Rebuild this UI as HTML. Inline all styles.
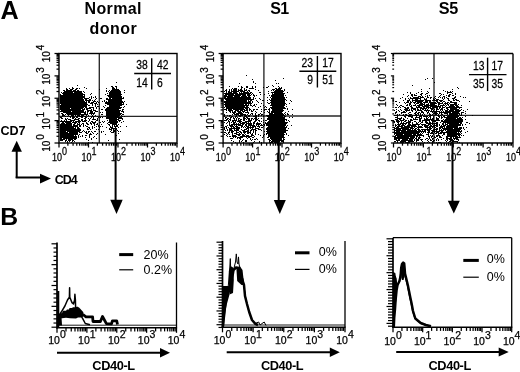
<!DOCTYPE html>
<html><head><meta charset="utf-8"><style>
html,body{margin:0;padding:0;background:#fff;}
svg{display:block;font-family:"Liberation Sans", sans-serif;filter:blur(0.4px);}
.lb{stroke:#000;stroke-width:0.25px;}
</style></head><body>
<svg width="520" height="372" viewBox="0 0 520 372">
<rect width="520" height="372" fill="#fff"/>
<text x="0.60" y="18.60" font-size="25.2" font-weight="bold" text-anchor="start">A</text>
<text x="0.30" y="224.70" font-size="24.8" font-weight="bold" text-anchor="start">B</text>
<text x="113.20" y="13.80" font-size="16" font-weight="bold" text-anchor="middle" letter-spacing="0.35">Normal</text>
<text x="113.40" y="33.80" font-size="16" font-weight="bold" text-anchor="middle" letter-spacing="0.45">donor</text>
<text x="279.40" y="14.00" font-size="16" font-weight="bold" text-anchor="middle" letter-spacing="-0.6">S1</text>
<text x="448.30" y="14.00" font-size="16.2" font-weight="bold" text-anchor="middle" letter-spacing="-0.3">S5</text>
<path d="M116 82h1v1h-1zM77 85h1v1h-1zM111 86h2v1h-2zM115 86h2v1h-2zM72 87h1v1h-1zM84 87h1v1h-1zM112 87h2v1h-2zM116 87h1v1h-1zM66 88h1v1h-1zM69 88h1v1h-1zM72 88h2v1h-2zM76 88h2v1h-2zM79 88h1v1h-1zM86 88h1v1h-1zM106 88h1v1h-1zM112 88h3v1h-3zM116 88h1v1h-1zM66 89h2v1h-2zM70 89h3v1h-3zM75 89h2v1h-2zM99 89h1v1h-1zM112 89h7v1h-7zM63 90h2v1h-2zM66 90h6v1h-6zM73 90h3v1h-3zM77 90h2v1h-2zM106 90h1v1h-1zM109 90h1v1h-1zM111 90h9v1h-9zM124 90h1v1h-1zM64 91h18v1h-18zM83 91h1v1h-1zM106 91h1v1h-1zM108 91h1v1h-1zM110 91h11v1h-11zM61 92h1v1h-1zM63 92h10v1h-10zM74 92h8v1h-8zM84 92h1v1h-1zM109 92h12v1h-12zM124 92h1v1h-1zM62 93h21v1h-21zM91 93h1v1h-1zM107 93h1v1h-1zM109 93h12v1h-12zM60 94h1v1h-1zM63 94h22v1h-22zM90 94h1v1h-1zM105 94h1v1h-1zM109 94h13v1h-13zM60 95h23v1h-23zM84 95h1v1h-1zM107 95h14v1h-14zM60 96h25v1h-25zM91 96h1v1h-1zM95 96h1v1h-1zM108 96h14v1h-14zM60 97h25v1h-25zM89 97h1v1h-1zM91 97h1v1h-1zM93 97h1v1h-1zM95 97h1v1h-1zM109 97h13v1h-13zM123 97h1v1h-1zM60 98h23v1h-23zM84 98h5v1h-5zM91 98h1v1h-1zM96 98h1v1h-1zM100 98h2v1h-2zM106 98h2v1h-2zM109 98h2v1h-2zM112 98h12v1h-12zM60 99h24v1h-24zM85 99h2v1h-2zM89 99h2v1h-2zM95 99h1v1h-1zM106 99h16v1h-16zM60 100h24v1h-24zM85 100h6v1h-6zM92 100h1v1h-1zM94 100h1v1h-1zM104 100h1v1h-1zM108 100h14v1h-14zM60 101h25v1h-25zM86 101h1v1h-1zM88 101h2v1h-2zM93 101h3v1h-3zM97 101h1v1h-1zM102 101h1v1h-1zM104 101h1v1h-1zM106 101h1v1h-1zM108 101h15v1h-15zM124 101h1v1h-1zM60 102h27v1h-27zM88 102h2v1h-2zM91 102h3v1h-3zM96 102h1v1h-1zM98 102h1v1h-1zM105 102h19v1h-19zM60 103h27v1h-27zM90 103h3v1h-3zM94 103h3v1h-3zM105 103h17v1h-17zM123 103h1v1h-1zM61 104h27v1h-27zM92 104h1v1h-1zM95 104h1v1h-1zM97 104h1v1h-1zM99 104h1v1h-1zM107 104h17v1h-17zM126 104h1v1h-1zM60 105h27v1h-27zM88 105h2v1h-2zM92 105h1v1h-1zM95 105h1v1h-1zM105 105h1v1h-1zM109 105h13v1h-13zM60 106h27v1h-27zM95 106h1v1h-1zM97 106h2v1h-2zM103 106h1v1h-1zM109 106h11v1h-11zM124 106h1v1h-1zM60 107h24v1h-24zM85 107h2v1h-2zM89 107h5v1h-5zM96 107h1v1h-1zM104 107h1v1h-1zM107 107h15v1h-15zM123 107h1v1h-1zM60 108h10v1h-10zM71 108h12v1h-12zM84 108h1v1h-1zM86 108h5v1h-5zM93 108h1v1h-1zM96 108h1v1h-1zM99 108h1v1h-1zM106 108h15v1h-15zM60 109h21v1h-21zM82 109h3v1h-3zM86 109h2v1h-2zM91 109h1v1h-1zM93 109h1v1h-1zM101 109h2v1h-2zM105 109h14v1h-14zM122 109h2v1h-2zM61 110h23v1h-23zM87 110h5v1h-5zM93 110h3v1h-3zM105 110h16v1h-16zM122 110h1v1h-1zM60 111h11v1h-11zM72 111h12v1h-12zM85 111h1v1h-1zM87 111h2v1h-2zM90 111h3v1h-3zM95 111h3v1h-3zM106 111h14v1h-14zM121 111h3v1h-3zM63 112h23v1h-23zM87 112h1v1h-1zM90 112h3v1h-3zM94 112h1v1h-1zM100 112h1v1h-1zM102 112h1v1h-1zM106 112h14v1h-14zM123 112h1v1h-1zM61 113h2v1h-2zM66 113h15v1h-15zM84 113h2v1h-2zM87 113h1v1h-1zM89 113h6v1h-6zM106 113h16v1h-16zM62 114h2v1h-2zM65 114h1v1h-1zM67 114h21v1h-21zM91 114h1v1h-1zM93 114h1v1h-1zM101 114h2v1h-2zM106 114h15v1h-15zM122 114h2v1h-2zM62 115h3v1h-3zM68 115h1v1h-1zM71 115h3v1h-3zM75 115h1v1h-1zM77 115h3v1h-3zM81 115h3v1h-3zM86 115h1v1h-1zM88 115h1v1h-1zM92 115h1v1h-1zM95 115h1v1h-1zM106 115h14v1h-14zM121 115h1v1h-1zM62 116h1v1h-1zM65 116h1v1h-1zM67 116h1v1h-1zM69 116h2v1h-2zM72 116h2v1h-2zM76 116h2v1h-2zM79 116h4v1h-4zM84 116h2v1h-2zM91 116h4v1h-4zM97 116h1v1h-1zM105 116h1v1h-1zM107 116h12v1h-12zM122 116h1v1h-1zM124 116h1v1h-1zM60 117h2v1h-2zM70 117h1v1h-1zM72 117h3v1h-3zM76 117h2v1h-2zM81 117h2v1h-2zM85 117h2v1h-2zM91 117h1v1h-1zM93 117h1v1h-1zM98 117h1v1h-1zM100 117h1v1h-1zM102 117h1v1h-1zM106 117h16v1h-16zM61 118h2v1h-2zM65 118h1v1h-1zM67 118h1v1h-1zM72 118h2v1h-2zM75 118h1v1h-1zM78 118h2v1h-2zM84 118h2v1h-2zM88 118h1v1h-1zM90 118h1v1h-1zM93 118h1v1h-1zM97 118h1v1h-1zM106 118h11v1h-11zM118 118h5v1h-5zM65 119h2v1h-2zM68 119h3v1h-3zM74 119h5v1h-5zM81 119h2v1h-2zM85 119h1v1h-1zM89 119h1v1h-1zM92 119h4v1h-4zM97 119h1v1h-1zM109 119h10v1h-10zM122 119h1v1h-1zM61 120h1v1h-1zM64 120h1v1h-1zM66 120h1v1h-1zM70 120h5v1h-5zM78 120h2v1h-2zM81 120h2v1h-2zM84 120h3v1h-3zM89 120h1v1h-1zM96 120h2v1h-2zM99 120h1v1h-1zM107 120h1v1h-1zM109 120h8v1h-8zM118 120h3v1h-3zM60 121h12v1h-12zM73 121h1v1h-1zM75 121h6v1h-6zM82 121h4v1h-4zM88 121h1v1h-1zM91 121h2v1h-2zM95 121h1v1h-1zM102 121h1v1h-1zM104 121h1v1h-1zM109 121h9v1h-9zM119 121h1v1h-1zM123 121h1v1h-1zM62 122h2v1h-2zM65 122h6v1h-6zM72 122h5v1h-5zM78 122h2v1h-2zM86 122h1v1h-1zM90 122h1v1h-1zM92 122h4v1h-4zM99 122h2v1h-2zM103 122h1v1h-1zM108 122h10v1h-10zM121 122h1v1h-1zM61 123h4v1h-4zM66 123h6v1h-6zM74 123h2v1h-2zM77 123h1v1h-1zM79 123h1v1h-1zM82 123h2v1h-2zM86 123h2v1h-2zM90 123h2v1h-2zM93 123h2v1h-2zM97 123h1v1h-1zM107 123h1v1h-1zM110 123h7v1h-7zM60 124h12v1h-12zM73 124h2v1h-2zM77 124h3v1h-3zM81 124h1v1h-1zM83 124h1v1h-1zM87 124h2v1h-2zM91 124h1v1h-1zM94 124h1v1h-1zM96 124h2v1h-2zM101 124h1v1h-1zM108 124h2v1h-2zM112 124h5v1h-5zM118 124h1v1h-1zM60 125h12v1h-12zM73 125h5v1h-5zM79 125h2v1h-2zM83 125h1v1h-1zM85 125h1v1h-1zM94 125h1v1h-1zM98 125h1v1h-1zM109 125h1v1h-1zM112 125h1v1h-1zM114 125h1v1h-1zM116 125h2v1h-2zM60 126h18v1h-18zM79 126h2v1h-2zM83 126h1v1h-1zM86 126h2v1h-2zM92 126h1v1h-1zM96 126h1v1h-1zM98 126h1v1h-1zM100 126h1v1h-1zM102 126h1v1h-1zM110 126h1v1h-1zM112 126h1v1h-1zM114 126h4v1h-4zM120 126h1v1h-1zM126 126h1v1h-1zM60 127h14v1h-14zM75 127h1v1h-1zM77 127h2v1h-2zM88 127h2v1h-2zM92 127h1v1h-1zM94 127h1v1h-1zM99 127h1v1h-1zM106 127h1v1h-1zM110 127h3v1h-3zM115 127h1v1h-1zM118 127h1v1h-1zM60 128h16v1h-16zM77 128h3v1h-3zM87 128h1v1h-1zM89 128h1v1h-1zM92 128h1v1h-1zM109 128h1v1h-1zM111 128h6v1h-6zM60 129h21v1h-21zM87 129h2v1h-2zM90 129h1v1h-1zM96 129h1v1h-1zM98 129h1v1h-1zM109 129h3v1h-3zM113 129h1v1h-1zM115 129h2v1h-2zM60 130h21v1h-21zM83 130h1v1h-1zM111 130h1v1h-1zM113 130h2v1h-2zM117 130h1v1h-1zM60 131h6v1h-6zM67 131h13v1h-13zM82 131h1v1h-1zM84 131h1v1h-1zM86 131h1v1h-1zM88 131h2v1h-2zM91 131h1v1h-1zM94 131h2v1h-2zM99 131h1v1h-1zM101 131h1v1h-1zM103 131h1v1h-1zM110 131h1v1h-1zM113 131h3v1h-3zM118 131h1v1h-1zM120 131h1v1h-1zM60 132h8v1h-8zM69 132h9v1h-9zM79 132h3v1h-3zM85 132h2v1h-2zM88 132h1v1h-1zM92 132h1v1h-1zM101 132h1v1h-1zM111 132h3v1h-3zM60 133h18v1h-18zM86 133h2v1h-2zM90 133h1v1h-1zM93 133h1v1h-1zM97 133h1v1h-1zM115 133h1v1h-1zM118 133h1v1h-1zM60 134h18v1h-18zM79 134h1v1h-1zM89 134h3v1h-3zM96 134h1v1h-1zM105 134h1v1h-1zM60 135h14v1h-14zM75 135h1v1h-1zM78 135h1v1h-1zM82 135h1v1h-1zM85 135h2v1h-2zM89 135h1v1h-1zM116 135h1v1h-1zM60 136h17v1h-17zM78 136h1v1h-1zM80 136h1v1h-1zM82 136h1v1h-1zM89 136h1v1h-1zM94 136h1v1h-1zM60 137h17v1h-17zM78 137h1v1h-1zM85 137h1v1h-1zM89 137h1v1h-1zM93 137h1v1h-1zM60 138h2v1h-2zM63 138h14v1h-14zM91 138h1v1h-1zM96 138h1v1h-1zM60 139h5v1h-5zM66 139h1v1h-1zM68 139h5v1h-5zM74 139h2v1h-2zM86 139h1v1h-1zM91 139h1v1h-1zM119 139h1v1h-1zM60 140h3v1h-3zM65 140h2v1h-2zM68 140h3v1h-3zM72 140h2v1h-2zM88 140h1v1h-1zM108 140h1v1h-1zM65 141h1v1h-1zM67 141h1v1h-1zM69 141h1v1h-1zM72 141h1v1h-1zM74 141h1v1h-1zM67 142h1v1h-1zM71 142h1v1h-1zM88 142h1v1h-1zM92 142h1v1h-1z" fill="#000"/>
<rect x="59" y="53.5" width="118" height="89.5" fill="none" stroke="#000" stroke-width="1.4"/>
<line x1="99.30" y1="53.50" x2="99.30" y2="143.00" stroke="#000" stroke-width="1.35" stroke-opacity="0.85"/>
<line x1="59.00" y1="116.40" x2="177.00" y2="116.40" stroke="#000" stroke-width="1.35" stroke-opacity="0.85"/>
<line x1="59.00" y1="143.00" x2="59.00" y2="147.50" stroke="#000" stroke-width="1.25" />
<line x1="67.88" y1="143.00" x2="67.88" y2="145.70" stroke="#000" stroke-width="1.25" />
<line x1="73.08" y1="143.00" x2="73.08" y2="145.70" stroke="#000" stroke-width="1.25" />
<line x1="76.76" y1="143.00" x2="76.76" y2="145.70" stroke="#000" stroke-width="1.25" />
<line x1="79.62" y1="143.00" x2="79.62" y2="145.70" stroke="#000" stroke-width="1.25" />
<line x1="81.96" y1="143.00" x2="81.96" y2="145.70" stroke="#000" stroke-width="1.25" />
<line x1="83.93" y1="143.00" x2="83.93" y2="145.70" stroke="#000" stroke-width="1.25" />
<line x1="85.64" y1="143.00" x2="85.64" y2="145.70" stroke="#000" stroke-width="1.25" />
<line x1="87.15" y1="143.00" x2="87.15" y2="145.70" stroke="#000" stroke-width="1.25" />
<line x1="88.50" y1="143.00" x2="88.50" y2="147.50" stroke="#000" stroke-width="1.25" />
<line x1="97.38" y1="143.00" x2="97.38" y2="145.70" stroke="#000" stroke-width="1.25" />
<line x1="102.58" y1="143.00" x2="102.58" y2="145.70" stroke="#000" stroke-width="1.25" />
<line x1="106.26" y1="143.00" x2="106.26" y2="145.70" stroke="#000" stroke-width="1.25" />
<line x1="109.12" y1="143.00" x2="109.12" y2="145.70" stroke="#000" stroke-width="1.25" />
<line x1="111.46" y1="143.00" x2="111.46" y2="145.70" stroke="#000" stroke-width="1.25" />
<line x1="113.43" y1="143.00" x2="113.43" y2="145.70" stroke="#000" stroke-width="1.25" />
<line x1="115.14" y1="143.00" x2="115.14" y2="145.70" stroke="#000" stroke-width="1.25" />
<line x1="116.65" y1="143.00" x2="116.65" y2="145.70" stroke="#000" stroke-width="1.25" />
<line x1="118.00" y1="143.00" x2="118.00" y2="147.50" stroke="#000" stroke-width="1.25" />
<line x1="126.88" y1="143.00" x2="126.88" y2="145.70" stroke="#000" stroke-width="1.25" />
<line x1="132.08" y1="143.00" x2="132.08" y2="145.70" stroke="#000" stroke-width="1.25" />
<line x1="135.76" y1="143.00" x2="135.76" y2="145.70" stroke="#000" stroke-width="1.25" />
<line x1="138.62" y1="143.00" x2="138.62" y2="145.70" stroke="#000" stroke-width="1.25" />
<line x1="140.96" y1="143.00" x2="140.96" y2="145.70" stroke="#000" stroke-width="1.25" />
<line x1="142.93" y1="143.00" x2="142.93" y2="145.70" stroke="#000" stroke-width="1.25" />
<line x1="144.64" y1="143.00" x2="144.64" y2="145.70" stroke="#000" stroke-width="1.25" />
<line x1="146.15" y1="143.00" x2="146.15" y2="145.70" stroke="#000" stroke-width="1.25" />
<line x1="147.50" y1="143.00" x2="147.50" y2="147.50" stroke="#000" stroke-width="1.25" />
<line x1="156.38" y1="143.00" x2="156.38" y2="145.70" stroke="#000" stroke-width="1.25" />
<line x1="161.58" y1="143.00" x2="161.58" y2="145.70" stroke="#000" stroke-width="1.25" />
<line x1="165.26" y1="143.00" x2="165.26" y2="145.70" stroke="#000" stroke-width="1.25" />
<line x1="168.12" y1="143.00" x2="168.12" y2="145.70" stroke="#000" stroke-width="1.25" />
<line x1="170.46" y1="143.00" x2="170.46" y2="145.70" stroke="#000" stroke-width="1.25" />
<line x1="172.43" y1="143.00" x2="172.43" y2="145.70" stroke="#000" stroke-width="1.25" />
<line x1="174.14" y1="143.00" x2="174.14" y2="145.70" stroke="#000" stroke-width="1.25" />
<line x1="175.65" y1="143.00" x2="175.65" y2="145.70" stroke="#000" stroke-width="1.25" />
<line x1="177.00" y1="143.00" x2="177.00" y2="147.50" stroke="#000" stroke-width="1.25" />
<line x1="54.50" y1="143.00" x2="59.00" y2="143.00" stroke="#000" stroke-width="1.25" />
<line x1="56.50" y1="136.26" x2="59.00" y2="136.26" stroke="#000" stroke-width="1.25" />
<line x1="56.50" y1="132.32" x2="59.00" y2="132.32" stroke="#000" stroke-width="1.25" />
<line x1="56.50" y1="129.53" x2="59.00" y2="129.53" stroke="#000" stroke-width="1.25" />
<line x1="56.50" y1="127.36" x2="59.00" y2="127.36" stroke="#000" stroke-width="1.25" />
<line x1="56.50" y1="125.59" x2="59.00" y2="125.59" stroke="#000" stroke-width="1.25" />
<line x1="56.50" y1="124.09" x2="59.00" y2="124.09" stroke="#000" stroke-width="1.25" />
<line x1="56.50" y1="122.79" x2="59.00" y2="122.79" stroke="#000" stroke-width="1.25" />
<line x1="56.50" y1="121.65" x2="59.00" y2="121.65" stroke="#000" stroke-width="1.25" />
<line x1="54.50" y1="120.62" x2="59.00" y2="120.62" stroke="#000" stroke-width="1.25" />
<line x1="56.50" y1="113.89" x2="59.00" y2="113.89" stroke="#000" stroke-width="1.25" />
<line x1="56.50" y1="109.95" x2="59.00" y2="109.95" stroke="#000" stroke-width="1.25" />
<line x1="56.50" y1="107.15" x2="59.00" y2="107.15" stroke="#000" stroke-width="1.25" />
<line x1="56.50" y1="104.99" x2="59.00" y2="104.99" stroke="#000" stroke-width="1.25" />
<line x1="56.50" y1="103.21" x2="59.00" y2="103.21" stroke="#000" stroke-width="1.25" />
<line x1="56.50" y1="101.72" x2="59.00" y2="101.72" stroke="#000" stroke-width="1.25" />
<line x1="56.50" y1="100.42" x2="59.00" y2="100.42" stroke="#000" stroke-width="1.25" />
<line x1="56.50" y1="99.27" x2="59.00" y2="99.27" stroke="#000" stroke-width="1.25" />
<line x1="54.50" y1="98.25" x2="59.00" y2="98.25" stroke="#000" stroke-width="1.25" />
<line x1="56.50" y1="91.51" x2="59.00" y2="91.51" stroke="#000" stroke-width="1.25" />
<line x1="56.50" y1="87.57" x2="59.00" y2="87.57" stroke="#000" stroke-width="1.25" />
<line x1="56.50" y1="84.78" x2="59.00" y2="84.78" stroke="#000" stroke-width="1.25" />
<line x1="56.50" y1="82.61" x2="59.00" y2="82.61" stroke="#000" stroke-width="1.25" />
<line x1="56.50" y1="80.84" x2="59.00" y2="80.84" stroke="#000" stroke-width="1.25" />
<line x1="56.50" y1="79.34" x2="59.00" y2="79.34" stroke="#000" stroke-width="1.25" />
<line x1="56.50" y1="78.04" x2="59.00" y2="78.04" stroke="#000" stroke-width="1.25" />
<line x1="56.50" y1="76.90" x2="59.00" y2="76.90" stroke="#000" stroke-width="1.25" />
<line x1="54.50" y1="75.88" x2="59.00" y2="75.88" stroke="#000" stroke-width="1.25" />
<line x1="56.50" y1="69.14" x2="59.00" y2="69.14" stroke="#000" stroke-width="1.25" />
<line x1="56.50" y1="65.20" x2="59.00" y2="65.20" stroke="#000" stroke-width="1.25" />
<line x1="56.50" y1="62.40" x2="59.00" y2="62.40" stroke="#000" stroke-width="1.25" />
<line x1="56.50" y1="60.24" x2="59.00" y2="60.24" stroke="#000" stroke-width="1.25" />
<line x1="56.50" y1="58.46" x2="59.00" y2="58.46" stroke="#000" stroke-width="1.25" />
<line x1="56.50" y1="56.97" x2="59.00" y2="56.97" stroke="#000" stroke-width="1.25" />
<line x1="56.50" y1="55.67" x2="59.00" y2="55.67" stroke="#000" stroke-width="1.25" />
<line x1="56.50" y1="54.52" x2="59.00" y2="54.52" stroke="#000" stroke-width="1.25" />
<line x1="54.50" y1="53.50" x2="59.00" y2="53.50" stroke="#000" stroke-width="1.25" />
<line x1="151.70" y1="58.30" x2="151.70" y2="89.40" stroke="#000" stroke-width="1.4" />
<line x1="134.20" y1="73.50" x2="171.00" y2="73.50" stroke="#000" stroke-width="1.4" />
<text x="147.80" y="69.20" font-size="12" class="lb" text-anchor="end" transform="translate(147.80,0) scale(0.86,1) translate(-147.80,0)">38</text>
<text x="157.00" y="69.20" font-size="12" class="lb" text-anchor="start" transform="translate(157.00,0) scale(0.86,1) translate(-157.00,0)">42</text>
<text x="147.80" y="86.60" font-size="12" class="lb" text-anchor="end" transform="translate(147.80,0) scale(0.86,1) translate(-147.80,0)">14</text>
<text x="157.00" y="86.60" font-size="12" class="lb" text-anchor="start" transform="translate(157.00,0) scale(0.86,1) translate(-157.00,0)">6</text>
<path d="M246 75h1v1h-1zM283 78h1v1h-1zM252 79h1v1h-1zM275 80h1v1h-1zM253 81h1v1h-1zM253 82h1v1h-1zM239 83h1v1h-1zM255 83h1v1h-1zM276 83h1v1h-1zM278 83h1v1h-1zM272 85h1v1h-1zM229 86h1v1h-1zM238 86h1v1h-1zM241 86h1v1h-1zM246 86h2v1h-2zM252 86h1v1h-1zM255 86h1v1h-1zM268 86h1v1h-1zM273 86h1v1h-1zM278 86h1v1h-1zM241 87h2v1h-2zM246 87h2v1h-2zM252 87h1v1h-1zM255 87h1v1h-1zM263 87h1v1h-1zM266 87h2v1h-2zM279 87h1v1h-1zM281 87h1v1h-1zM232 88h1v1h-1zM234 88h3v1h-3zM241 88h1v1h-1zM244 88h1v1h-1zM249 88h5v1h-5zM275 88h2v1h-2zM278 88h4v1h-4zM226 89h1v1h-1zM229 89h1v1h-1zM231 89h1v1h-1zM233 89h4v1h-4zM238 89h1v1h-1zM240 89h2v1h-2zM244 89h1v1h-1zM246 89h1v1h-1zM255 89h1v1h-1zM272 89h3v1h-3zM276 89h5v1h-5zM284 89h1v1h-1zM225 90h2v1h-2zM229 90h1v1h-1zM231 90h1v1h-1zM233 90h4v1h-4zM238 90h5v1h-5zM244 90h3v1h-3zM248 90h2v1h-2zM258 90h1v1h-1zM271 90h1v1h-1zM273 90h1v1h-1zM275 90h8v1h-8zM284 90h1v1h-1zM224 91h1v1h-1zM226 91h1v1h-1zM228 91h2v1h-2zM231 91h8v1h-8zM240 91h5v1h-5zM247 91h1v1h-1zM249 91h1v1h-1zM268 91h1v1h-1zM274 91h10v1h-10zM226 92h1v1h-1zM228 92h4v1h-4zM233 92h4v1h-4zM239 92h1v1h-1zM241 92h1v1h-1zM243 92h6v1h-6zM250 92h2v1h-2zM259 92h2v1h-2zM271 92h12v1h-12zM287 92h1v1h-1zM224 93h14v1h-14zM239 93h12v1h-12zM252 93h1v1h-1zM268 93h1v1h-1zM272 93h1v1h-1zM274 93h11v1h-11zM225 94h9v1h-9zM235 94h11v1h-11zM247 94h3v1h-3zM251 94h1v1h-1zM253 94h1v1h-1zM260 94h1v1h-1zM264 94h1v1h-1zM272 94h12v1h-12zM224 95h3v1h-3zM228 95h13v1h-13zM242 95h4v1h-4zM247 95h4v1h-4zM253 95h2v1h-2zM256 95h1v1h-1zM269 95h1v1h-1zM271 95h13v1h-13zM285 95h1v1h-1zM224 96h9v1h-9zM234 96h6v1h-6zM241 96h6v1h-6zM248 96h2v1h-2zM254 96h1v1h-1zM271 96h13v1h-13zM224 97h2v1h-2zM227 97h24v1h-24zM253 97h1v1h-1zM267 97h1v1h-1zM270 97h1v1h-1zM272 97h13v1h-13zM286 97h1v1h-1zM224 98h27v1h-27zM253 98h1v1h-1zM255 98h1v1h-1zM259 98h1v1h-1zM271 98h14v1h-14zM225 99h29v1h-29zM260 99h1v1h-1zM269 99h1v1h-1zM271 99h15v1h-15zM226 100h21v1h-21zM248 100h1v1h-1zM250 100h2v1h-2zM256 100h1v1h-1zM262 100h2v1h-2zM267 100h1v1h-1zM270 100h15v1h-15zM286 100h1v1h-1zM290 100h1v1h-1zM224 101h23v1h-23zM248 101h3v1h-3zM252 101h1v1h-1zM257 101h1v1h-1zM271 101h14v1h-14zM291 101h1v1h-1zM224 102h27v1h-27zM252 102h1v1h-1zM258 102h1v1h-1zM267 102h1v1h-1zM270 102h15v1h-15zM225 103h27v1h-27zM261 103h1v1h-1zM268 103h2v1h-2zM271 103h15v1h-15zM289 103h1v1h-1zM224 104h20v1h-20zM245 104h2v1h-2zM248 104h1v1h-1zM250 104h1v1h-1zM254 104h1v1h-1zM256 104h1v1h-1zM271 104h14v1h-14zM286 104h1v1h-1zM225 105h24v1h-24zM250 105h2v1h-2zM253 105h2v1h-2zM263 105h1v1h-1zM270 105h15v1h-15zM225 106h20v1h-20zM246 106h2v1h-2zM252 106h1v1h-1zM255 106h1v1h-1zM260 106h1v1h-1zM265 106h1v1h-1zM272 106h12v1h-12zM286 106h1v1h-1zM224 107h1v1h-1zM226 107h23v1h-23zM258 107h1v1h-1zM264 107h1v1h-1zM266 107h1v1h-1zM270 107h15v1h-15zM226 108h18v1h-18zM245 108h3v1h-3zM249 108h1v1h-1zM269 108h1v1h-1zM271 108h15v1h-15zM287 108h1v1h-1zM224 109h3v1h-3zM228 109h4v1h-4zM233 109h12v1h-12zM246 109h2v1h-2zM249 109h2v1h-2zM253 109h2v1h-2zM256 109h2v1h-2zM261 109h1v1h-1zM264 109h3v1h-3zM268 109h2v1h-2zM272 109h11v1h-11zM287 109h1v1h-1zM292 109h1v1h-1zM226 110h1v1h-1zM228 110h5v1h-5zM235 110h4v1h-4zM240 110h3v1h-3zM244 110h4v1h-4zM249 110h1v1h-1zM251 110h1v1h-1zM253 110h1v1h-1zM264 110h1v1h-1zM269 110h1v1h-1zM272 110h12v1h-12zM229 111h2v1h-2zM232 111h1v1h-1zM234 111h2v1h-2zM237 111h4v1h-4zM242 111h3v1h-3zM247 111h1v1h-1zM251 111h2v1h-2zM255 111h1v1h-1zM261 111h1v1h-1zM267 111h1v1h-1zM269 111h1v1h-1zM271 111h12v1h-12zM288 111h1v1h-1zM226 112h1v1h-1zM230 112h1v1h-1zM232 112h4v1h-4zM238 112h4v1h-4zM243 112h1v1h-1zM245 112h4v1h-4zM256 112h1v1h-1zM264 112h1v1h-1zM268 112h2v1h-2zM271 112h11v1h-11zM285 112h1v1h-1zM233 113h2v1h-2zM236 113h7v1h-7zM248 113h1v1h-1zM251 113h2v1h-2zM255 113h1v1h-1zM260 113h1v1h-1zM269 113h4v1h-4zM274 113h9v1h-9zM284 113h1v1h-1zM287 113h1v1h-1zM224 114h1v1h-1zM232 114h1v1h-1zM234 114h5v1h-5zM240 114h6v1h-6zM247 114h1v1h-1zM250 114h1v1h-1zM252 114h1v1h-1zM255 114h1v1h-1zM258 114h2v1h-2zM261 114h2v1h-2zM269 114h15v1h-15zM285 114h1v1h-1zM287 114h2v1h-2zM292 114h1v1h-1zM224 115h1v1h-1zM227 115h1v1h-1zM229 115h2v1h-2zM236 115h1v1h-1zM238 115h5v1h-5zM244 115h3v1h-3zM248 115h2v1h-2zM255 115h2v1h-2zM258 115h1v1h-1zM261 115h1v1h-1zM266 115h19v1h-19zM224 116h1v1h-1zM229 116h1v1h-1zM231 116h2v1h-2zM235 116h2v1h-2zM239 116h2v1h-2zM244 116h3v1h-3zM248 116h2v1h-2zM253 116h4v1h-4zM258 116h1v1h-1zM263 116h1v1h-1zM267 116h16v1h-16zM284 116h2v1h-2zM225 117h2v1h-2zM230 117h2v1h-2zM233 117h1v1h-1zM235 117h1v1h-1zM237 117h1v1h-1zM243 117h2v1h-2zM246 117h2v1h-2zM255 117h2v1h-2zM268 117h17v1h-17zM289 117h1v1h-1zM292 117h1v1h-1zM225 118h1v1h-1zM227 118h2v1h-2zM230 118h1v1h-1zM233 118h2v1h-2zM236 118h1v1h-1zM238 118h2v1h-2zM243 118h3v1h-3zM247 118h3v1h-3zM251 118h2v1h-2zM254 118h3v1h-3zM258 118h1v1h-1zM261 118h1v1h-1zM267 118h18v1h-18zM226 119h2v1h-2zM229 119h2v1h-2zM234 119h1v1h-1zM236 119h1v1h-1zM238 119h1v1h-1zM240 119h2v1h-2zM243 119h2v1h-2zM246 119h1v1h-1zM248 119h2v1h-2zM251 119h1v1h-1zM253 119h1v1h-1zM255 119h3v1h-3zM267 119h20v1h-20zM224 120h3v1h-3zM228 120h1v1h-1zM230 120h1v1h-1zM232 120h5v1h-5zM238 120h3v1h-3zM243 120h2v1h-2zM248 120h4v1h-4zM255 120h2v1h-2zM258 120h2v1h-2zM263 120h1v1h-1zM265 120h2v1h-2zM269 120h16v1h-16zM286 120h1v1h-1zM288 120h1v1h-1zM228 121h2v1h-2zM232 121h2v1h-2zM235 121h1v1h-1zM237 121h5v1h-5zM245 121h6v1h-6zM254 121h2v1h-2zM259 121h1v1h-1zM261 121h1v1h-1zM268 121h17v1h-17zM289 121h1v1h-1zM224 122h1v1h-1zM227 122h1v1h-1zM229 122h1v1h-1zM231 122h1v1h-1zM233 122h3v1h-3zM239 122h2v1h-2zM242 122h5v1h-5zM248 122h1v1h-1zM250 122h1v1h-1zM253 122h2v1h-2zM257 122h1v1h-1zM263 122h1v1h-1zM265 122h1v1h-1zM267 122h21v1h-21zM226 123h1v1h-1zM229 123h1v1h-1zM233 123h2v1h-2zM236 123h1v1h-1zM238 123h1v1h-1zM240 123h5v1h-5zM246 123h6v1h-6zM253 123h2v1h-2zM256 123h5v1h-5zM265 123h22v1h-22zM229 124h1v1h-1zM231 124h10v1h-10zM242 124h2v1h-2zM245 124h2v1h-2zM248 124h4v1h-4zM253 124h1v1h-1zM256 124h4v1h-4zM261 124h1v1h-1zM263 124h2v1h-2zM266 124h20v1h-20zM227 125h1v1h-1zM229 125h4v1h-4zM234 125h1v1h-1zM236 125h1v1h-1zM238 125h5v1h-5zM245 125h2v1h-2zM248 125h7v1h-7zM256 125h1v1h-1zM258 125h1v1h-1zM260 125h3v1h-3zM264 125h1v1h-1zM266 125h20v1h-20zM287 125h1v1h-1zM291 125h1v1h-1zM225 126h2v1h-2zM230 126h4v1h-4zM235 126h3v1h-3zM241 126h2v1h-2zM244 126h1v1h-1zM246 126h3v1h-3zM250 126h1v1h-1zM252 126h4v1h-4zM257 126h3v1h-3zM263 126h1v1h-1zM268 126h17v1h-17zM286 126h1v1h-1zM224 127h1v1h-1zM226 127h1v1h-1zM228 127h1v1h-1zM231 127h1v1h-1zM233 127h2v1h-2zM236 127h4v1h-4zM241 127h1v1h-1zM243 127h1v1h-1zM245 127h1v1h-1zM247 127h7v1h-7zM255 127h1v1h-1zM259 127h1v1h-1zM261 127h2v1h-2zM267 127h20v1h-20zM224 128h1v1h-1zM226 128h1v1h-1zM229 128h11v1h-11zM246 128h3v1h-3zM250 128h1v1h-1zM252 128h1v1h-1zM255 128h4v1h-4zM266 128h20v1h-20zM288 128h1v1h-1zM224 129h1v1h-1zM227 129h1v1h-1zM229 129h3v1h-3zM234 129h1v1h-1zM236 129h3v1h-3zM241 129h1v1h-1zM244 129h3v1h-3zM248 129h1v1h-1zM251 129h5v1h-5zM258 129h3v1h-3zM266 129h20v1h-20zM225 130h1v1h-1zM227 130h1v1h-1zM229 130h4v1h-4zM234 130h5v1h-5zM242 130h3v1h-3zM247 130h2v1h-2zM250 130h2v1h-2zM253 130h1v1h-1zM255 130h2v1h-2zM261 130h1v1h-1zM267 130h21v1h-21zM229 131h1v1h-1zM231 131h3v1h-3zM236 131h1v1h-1zM239 131h2v1h-2zM243 131h6v1h-6zM250 131h1v1h-1zM253 131h1v1h-1zM255 131h1v1h-1zM264 131h1v1h-1zM266 131h20v1h-20zM224 132h2v1h-2zM228 132h2v1h-2zM231 132h2v1h-2zM236 132h3v1h-3zM240 132h2v1h-2zM243 132h3v1h-3zM247 132h4v1h-4zM253 132h1v1h-1zM255 132h1v1h-1zM267 132h19v1h-19zM226 133h1v1h-1zM228 133h1v1h-1zM232 133h1v1h-1zM234 133h3v1h-3zM239 133h1v1h-1zM241 133h1v1h-1zM244 133h1v1h-1zM247 133h2v1h-2zM250 133h1v1h-1zM252 133h1v1h-1zM255 133h1v1h-1zM266 133h18v1h-18zM286 133h1v1h-1zM224 134h1v1h-1zM227 134h1v1h-1zM229 134h1v1h-1zM232 134h1v1h-1zM236 134h5v1h-5zM242 134h2v1h-2zM245 134h1v1h-1zM251 134h2v1h-2zM255 134h1v1h-1zM258 134h1v1h-1zM264 134h1v1h-1zM266 134h1v1h-1zM268 134h17v1h-17zM286 134h1v1h-1zM226 135h1v1h-1zM232 135h4v1h-4zM238 135h2v1h-2zM242 135h3v1h-3zM246 135h3v1h-3zM251 135h3v1h-3zM260 135h1v1h-1zM263 135h1v1h-1zM268 135h16v1h-16zM288 135h1v1h-1zM227 136h1v1h-1zM229 136h2v1h-2zM232 136h5v1h-5zM240 136h12v1h-12zM254 136h1v1h-1zM263 136h1v1h-1zM268 136h16v1h-16zM233 137h1v1h-1zM235 137h1v1h-1zM237 137h6v1h-6zM246 137h1v1h-1zM248 137h2v1h-2zM252 137h2v1h-2zM262 137h1v1h-1zM267 137h2v1h-2zM270 137h15v1h-15zM230 138h3v1h-3zM237 138h1v1h-1zM239 138h2v1h-2zM247 138h1v1h-1zM250 138h1v1h-1zM256 138h1v1h-1zM270 138h12v1h-12zM283 138h1v1h-1zM240 139h1v1h-1zM243 139h1v1h-1zM250 139h1v1h-1zM252 139h1v1h-1zM254 139h2v1h-2zM257 139h1v1h-1zM268 139h2v1h-2zM271 139h11v1h-11zM283 139h2v1h-2zM231 140h1v1h-1zM239 140h1v1h-1zM242 140h1v1h-1zM245 140h2v1h-2zM251 140h1v1h-1zM269 140h2v1h-2zM272 140h12v1h-12zM233 141h1v1h-1zM239 141h1v1h-1zM241 141h1v1h-1zM245 141h2v1h-2zM254 141h1v1h-1zM259 141h1v1h-1zM269 141h1v1h-1zM271 141h9v1h-9zM281 141h3v1h-3zM235 142h1v1h-1zM239 142h1v1h-1zM243 142h1v1h-1zM253 142h1v1h-1zM259 142h1v1h-1zM261 142h1v1h-1zM269 142h4v1h-4zM274 142h5v1h-5zM283 142h1v1h-1z" fill="#000"/>
<rect x="223.1" y="53.5" width="117.9" height="89.5" fill="none" stroke="#000" stroke-width="1.4"/>
<line x1="263.90" y1="53.50" x2="263.90" y2="143.00" stroke="#000" stroke-width="1.35" stroke-opacity="0.85"/>
<line x1="223.10" y1="116.00" x2="341.00" y2="116.00" stroke="#000" stroke-width="1.35" stroke-opacity="0.85"/>
<line x1="223.10" y1="143.00" x2="223.10" y2="147.50" stroke="#000" stroke-width="1.25" />
<line x1="231.97" y1="143.00" x2="231.97" y2="145.70" stroke="#000" stroke-width="1.25" />
<line x1="237.16" y1="143.00" x2="237.16" y2="145.70" stroke="#000" stroke-width="1.25" />
<line x1="240.85" y1="143.00" x2="240.85" y2="145.70" stroke="#000" stroke-width="1.25" />
<line x1="243.70" y1="143.00" x2="243.70" y2="145.70" stroke="#000" stroke-width="1.25" />
<line x1="246.04" y1="143.00" x2="246.04" y2="145.70" stroke="#000" stroke-width="1.25" />
<line x1="248.01" y1="143.00" x2="248.01" y2="145.70" stroke="#000" stroke-width="1.25" />
<line x1="249.72" y1="143.00" x2="249.72" y2="145.70" stroke="#000" stroke-width="1.25" />
<line x1="251.23" y1="143.00" x2="251.23" y2="145.70" stroke="#000" stroke-width="1.25" />
<line x1="252.57" y1="143.00" x2="252.57" y2="147.50" stroke="#000" stroke-width="1.25" />
<line x1="261.45" y1="143.00" x2="261.45" y2="145.70" stroke="#000" stroke-width="1.25" />
<line x1="266.64" y1="143.00" x2="266.64" y2="145.70" stroke="#000" stroke-width="1.25" />
<line x1="270.32" y1="143.00" x2="270.32" y2="145.70" stroke="#000" stroke-width="1.25" />
<line x1="273.18" y1="143.00" x2="273.18" y2="145.70" stroke="#000" stroke-width="1.25" />
<line x1="275.51" y1="143.00" x2="275.51" y2="145.70" stroke="#000" stroke-width="1.25" />
<line x1="277.48" y1="143.00" x2="277.48" y2="145.70" stroke="#000" stroke-width="1.25" />
<line x1="279.19" y1="143.00" x2="279.19" y2="145.70" stroke="#000" stroke-width="1.25" />
<line x1="280.70" y1="143.00" x2="280.70" y2="145.70" stroke="#000" stroke-width="1.25" />
<line x1="282.05" y1="143.00" x2="282.05" y2="147.50" stroke="#000" stroke-width="1.25" />
<line x1="290.92" y1="143.00" x2="290.92" y2="145.70" stroke="#000" stroke-width="1.25" />
<line x1="296.11" y1="143.00" x2="296.11" y2="145.70" stroke="#000" stroke-width="1.25" />
<line x1="299.80" y1="143.00" x2="299.80" y2="145.70" stroke="#000" stroke-width="1.25" />
<line x1="302.65" y1="143.00" x2="302.65" y2="145.70" stroke="#000" stroke-width="1.25" />
<line x1="304.99" y1="143.00" x2="304.99" y2="145.70" stroke="#000" stroke-width="1.25" />
<line x1="306.96" y1="143.00" x2="306.96" y2="145.70" stroke="#000" stroke-width="1.25" />
<line x1="308.67" y1="143.00" x2="308.67" y2="145.70" stroke="#000" stroke-width="1.25" />
<line x1="310.18" y1="143.00" x2="310.18" y2="145.70" stroke="#000" stroke-width="1.25" />
<line x1="311.52" y1="143.00" x2="311.52" y2="147.50" stroke="#000" stroke-width="1.25" />
<line x1="320.40" y1="143.00" x2="320.40" y2="145.70" stroke="#000" stroke-width="1.25" />
<line x1="325.59" y1="143.00" x2="325.59" y2="145.70" stroke="#000" stroke-width="1.25" />
<line x1="329.27" y1="143.00" x2="329.27" y2="145.70" stroke="#000" stroke-width="1.25" />
<line x1="332.13" y1="143.00" x2="332.13" y2="145.70" stroke="#000" stroke-width="1.25" />
<line x1="334.46" y1="143.00" x2="334.46" y2="145.70" stroke="#000" stroke-width="1.25" />
<line x1="336.43" y1="143.00" x2="336.43" y2="145.70" stroke="#000" stroke-width="1.25" />
<line x1="338.14" y1="143.00" x2="338.14" y2="145.70" stroke="#000" stroke-width="1.25" />
<line x1="339.65" y1="143.00" x2="339.65" y2="145.70" stroke="#000" stroke-width="1.25" />
<line x1="341.00" y1="143.00" x2="341.00" y2="147.50" stroke="#000" stroke-width="1.25" />
<line x1="218.60" y1="143.00" x2="223.10" y2="143.00" stroke="#000" stroke-width="1.25" />
<line x1="220.60" y1="136.26" x2="223.10" y2="136.26" stroke="#000" stroke-width="1.25" />
<line x1="220.60" y1="132.32" x2="223.10" y2="132.32" stroke="#000" stroke-width="1.25" />
<line x1="220.60" y1="129.53" x2="223.10" y2="129.53" stroke="#000" stroke-width="1.25" />
<line x1="220.60" y1="127.36" x2="223.10" y2="127.36" stroke="#000" stroke-width="1.25" />
<line x1="220.60" y1="125.59" x2="223.10" y2="125.59" stroke="#000" stroke-width="1.25" />
<line x1="220.60" y1="124.09" x2="223.10" y2="124.09" stroke="#000" stroke-width="1.25" />
<line x1="220.60" y1="122.79" x2="223.10" y2="122.79" stroke="#000" stroke-width="1.25" />
<line x1="220.60" y1="121.65" x2="223.10" y2="121.65" stroke="#000" stroke-width="1.25" />
<line x1="218.60" y1="120.62" x2="223.10" y2="120.62" stroke="#000" stroke-width="1.25" />
<line x1="220.60" y1="113.89" x2="223.10" y2="113.89" stroke="#000" stroke-width="1.25" />
<line x1="220.60" y1="109.95" x2="223.10" y2="109.95" stroke="#000" stroke-width="1.25" />
<line x1="220.60" y1="107.15" x2="223.10" y2="107.15" stroke="#000" stroke-width="1.25" />
<line x1="220.60" y1="104.99" x2="223.10" y2="104.99" stroke="#000" stroke-width="1.25" />
<line x1="220.60" y1="103.21" x2="223.10" y2="103.21" stroke="#000" stroke-width="1.25" />
<line x1="220.60" y1="101.72" x2="223.10" y2="101.72" stroke="#000" stroke-width="1.25" />
<line x1="220.60" y1="100.42" x2="223.10" y2="100.42" stroke="#000" stroke-width="1.25" />
<line x1="220.60" y1="99.27" x2="223.10" y2="99.27" stroke="#000" stroke-width="1.25" />
<line x1="218.60" y1="98.25" x2="223.10" y2="98.25" stroke="#000" stroke-width="1.25" />
<line x1="220.60" y1="91.51" x2="223.10" y2="91.51" stroke="#000" stroke-width="1.25" />
<line x1="220.60" y1="87.57" x2="223.10" y2="87.57" stroke="#000" stroke-width="1.25" />
<line x1="220.60" y1="84.78" x2="223.10" y2="84.78" stroke="#000" stroke-width="1.25" />
<line x1="220.60" y1="82.61" x2="223.10" y2="82.61" stroke="#000" stroke-width="1.25" />
<line x1="220.60" y1="80.84" x2="223.10" y2="80.84" stroke="#000" stroke-width="1.25" />
<line x1="220.60" y1="79.34" x2="223.10" y2="79.34" stroke="#000" stroke-width="1.25" />
<line x1="220.60" y1="78.04" x2="223.10" y2="78.04" stroke="#000" stroke-width="1.25" />
<line x1="220.60" y1="76.90" x2="223.10" y2="76.90" stroke="#000" stroke-width="1.25" />
<line x1="218.60" y1="75.88" x2="223.10" y2="75.88" stroke="#000" stroke-width="1.25" />
<line x1="220.60" y1="69.14" x2="223.10" y2="69.14" stroke="#000" stroke-width="1.25" />
<line x1="220.60" y1="65.20" x2="223.10" y2="65.20" stroke="#000" stroke-width="1.25" />
<line x1="220.60" y1="62.40" x2="223.10" y2="62.40" stroke="#000" stroke-width="1.25" />
<line x1="220.60" y1="60.24" x2="223.10" y2="60.24" stroke="#000" stroke-width="1.25" />
<line x1="220.60" y1="58.46" x2="223.10" y2="58.46" stroke="#000" stroke-width="1.25" />
<line x1="220.60" y1="56.97" x2="223.10" y2="56.97" stroke="#000" stroke-width="1.25" />
<line x1="220.60" y1="55.67" x2="223.10" y2="55.67" stroke="#000" stroke-width="1.25" />
<line x1="220.60" y1="54.52" x2="223.10" y2="54.52" stroke="#000" stroke-width="1.25" />
<line x1="218.60" y1="53.50" x2="223.10" y2="53.50" stroke="#000" stroke-width="1.25" />
<line x1="317.40" y1="56.00" x2="317.40" y2="87.50" stroke="#000" stroke-width="1.4" />
<line x1="299.40" y1="71.30" x2="336.30" y2="71.30" stroke="#000" stroke-width="1.4" />
<text x="313.00" y="66.80" font-size="12" class="lb" text-anchor="end" transform="translate(313.00,0) scale(0.86,1) translate(-313.00,0)">23</text>
<text x="322.30" y="66.80" font-size="12" class="lb" text-anchor="start" transform="translate(322.30,0) scale(0.86,1) translate(-322.30,0)">17</text>
<text x="313.00" y="84.20" font-size="12" class="lb" text-anchor="end" transform="translate(313.00,0) scale(0.86,1) translate(-313.00,0)">9</text>
<text x="322.30" y="84.20" font-size="12" class="lb" text-anchor="start" transform="translate(322.30,0) scale(0.86,1) translate(-322.30,0)">51</text>
<path d="M427 78h1v1h-1zM432 78h1v1h-1zM425 79h1v1h-1zM434 82h1v1h-1zM412 85h1v1h-1zM457 87h1v1h-1zM429 88h1v1h-1zM458 88h1v1h-1zM421 89h1v1h-1zM452 89h1v1h-1zM443 90h1v1h-1zM421 91h1v1h-1zM427 91h1v1h-1zM445 91h1v1h-1zM447 91h1v1h-1zM450 91h1v1h-1zM452 91h1v1h-1zM407 92h1v1h-1zM410 92h1v1h-1zM418 92h1v1h-1zM428 92h1v1h-1zM447 92h5v1h-5zM410 93h1v1h-1zM416 93h1v1h-1zM421 93h2v1h-2zM426 93h2v1h-2zM439 93h2v1h-2zM447 93h1v1h-1zM452 93h1v1h-1zM455 93h1v1h-1zM403 94h1v1h-1zM411 94h2v1h-2zM414 94h1v1h-1zM420 94h2v1h-2zM425 94h1v1h-1zM441 94h1v1h-1zM443 94h1v1h-1zM449 94h2v1h-2zM455 94h1v1h-1zM408 95h1v1h-1zM411 95h2v1h-2zM414 95h3v1h-3zM421 95h1v1h-1zM427 95h1v1h-1zM429 95h1v1h-1zM440 95h1v1h-1zM446 95h1v1h-1zM448 95h2v1h-2zM452 95h2v1h-2zM407 96h1v1h-1zM412 96h1v1h-1zM418 96h3v1h-3zM422 96h1v1h-1zM425 96h1v1h-1zM427 96h1v1h-1zM435 96h1v1h-1zM439 96h1v1h-1zM443 96h2v1h-2zM448 96h2v1h-2zM455 96h1v1h-1zM460 96h1v1h-1zM402 97h1v1h-1zM410 97h1v1h-1zM413 97h6v1h-6zM420 97h4v1h-4zM427 97h2v1h-2zM430 97h2v1h-2zM434 97h1v1h-1zM438 97h1v1h-1zM440 97h1v1h-1zM442 97h1v1h-1zM444 97h1v1h-1zM446 97h1v1h-1zM454 97h2v1h-2zM463 97h1v1h-1zM465 97h1v1h-1zM400 98h1v1h-1zM405 98h1v1h-1zM408 98h1v1h-1zM410 98h11v1h-11zM424 98h1v1h-1zM426 98h1v1h-1zM430 98h1v1h-1zM433 98h1v1h-1zM435 98h1v1h-1zM442 98h1v1h-1zM444 98h1v1h-1zM447 98h2v1h-2zM452 98h3v1h-3zM405 99h1v1h-1zM409 99h1v1h-1zM412 99h1v1h-1zM415 99h3v1h-3zM420 99h1v1h-1zM424 99h3v1h-3zM433 99h2v1h-2zM436 99h3v1h-3zM443 99h1v1h-1zM448 99h1v1h-1zM453 99h1v1h-1zM455 99h2v1h-2zM403 100h1v1h-1zM407 100h3v1h-3zM412 100h12v1h-12zM425 100h6v1h-6zM432 100h6v1h-6zM439 100h4v1h-4zM448 100h2v1h-2zM453 100h2v1h-2zM456 100h3v1h-3zM395 101h2v1h-2zM407 101h2v1h-2zM410 101h1v1h-1zM412 101h1v1h-1zM415 101h8v1h-8zM425 101h3v1h-3zM429 101h2v1h-2zM436 101h2v1h-2zM440 101h2v1h-2zM443 101h2v1h-2zM450 101h2v1h-2zM459 101h1v1h-1zM469 101h1v1h-1zM399 102h1v1h-1zM404 102h1v1h-1zM406 102h3v1h-3zM410 102h2v1h-2zM413 102h3v1h-3zM417 102h5v1h-5zM423 102h5v1h-5zM429 102h7v1h-7zM437 102h3v1h-3zM442 102h1v1h-1zM445 102h1v1h-1zM447 102h2v1h-2zM450 102h7v1h-7zM405 103h1v1h-1zM409 103h2v1h-2zM414 103h1v1h-1zM416 103h3v1h-3zM420 103h3v1h-3zM424 103h1v1h-1zM428 103h1v1h-1zM430 103h7v1h-7zM438 103h5v1h-5zM444 103h4v1h-4zM449 103h1v1h-1zM454 103h3v1h-3zM396 104h1v1h-1zM407 104h1v1h-1zM409 104h2v1h-2zM415 104h1v1h-1zM419 104h6v1h-6zM426 104h3v1h-3zM430 104h5v1h-5zM438 104h2v1h-2zM443 104h1v1h-1zM445 104h1v1h-1zM447 104h2v1h-2zM450 104h7v1h-7zM458 104h1v1h-1zM397 105h1v1h-1zM400 105h2v1h-2zM406 105h2v1h-2zM409 105h1v1h-1zM411 105h1v1h-1zM413 105h3v1h-3zM417 105h6v1h-6zM424 105h13v1h-13zM438 105h1v1h-1zM440 105h5v1h-5zM446 105h1v1h-1zM448 105h1v1h-1zM450 105h4v1h-4zM455 105h3v1h-3zM461 105h1v1h-1zM399 106h1v1h-1zM402 106h2v1h-2zM410 106h2v1h-2zM416 106h1v1h-1zM418 106h2v1h-2zM422 106h7v1h-7zM430 106h11v1h-11zM442 106h1v1h-1zM445 106h1v1h-1zM449 106h6v1h-6zM456 106h3v1h-3zM395 107h2v1h-2zM398 107h1v1h-1zM400 107h1v1h-1zM404 107h2v1h-2zM407 107h2v1h-2zM411 107h2v1h-2zM416 107h6v1h-6zM423 107h2v1h-2zM426 107h5v1h-5zM432 107h6v1h-6zM439 107h2v1h-2zM442 107h3v1h-3zM446 107h16v1h-16zM405 108h4v1h-4zM411 108h5v1h-5zM417 108h1v1h-1zM420 108h7v1h-7zM428 108h1v1h-1zM430 108h4v1h-4zM436 108h2v1h-2zM439 108h1v1h-1zM441 108h2v1h-2zM446 108h2v1h-2zM450 108h7v1h-7zM459 108h1v1h-1zM396 109h1v1h-1zM400 109h1v1h-1zM404 109h4v1h-4zM409 109h1v1h-1zM411 109h1v1h-1zM413 109h3v1h-3zM417 109h2v1h-2zM420 109h1v1h-1zM422 109h2v1h-2zM425 109h1v1h-1zM427 109h1v1h-1zM431 109h2v1h-2zM434 109h1v1h-1zM436 109h3v1h-3zM440 109h3v1h-3zM444 109h1v1h-1zM447 109h2v1h-2zM450 109h9v1h-9zM461 109h1v1h-1zM467 109h1v1h-1zM394 110h1v1h-1zM398 110h1v1h-1zM401 110h1v1h-1zM405 110h5v1h-5zM411 110h2v1h-2zM415 110h1v1h-1zM417 110h5v1h-5zM424 110h6v1h-6zM431 110h1v1h-1zM433 110h1v1h-1zM436 110h1v1h-1zM440 110h1v1h-1zM442 110h1v1h-1zM445 110h3v1h-3zM449 110h5v1h-5zM455 110h6v1h-6zM463 110h1v1h-1zM396 111h1v1h-1zM399 111h1v1h-1zM403 111h2v1h-2zM406 111h1v1h-1zM412 111h1v1h-1zM416 111h1v1h-1zM421 111h2v1h-2zM426 111h1v1h-1zM428 111h1v1h-1zM430 111h10v1h-10zM441 111h1v1h-1zM443 111h1v1h-1zM445 111h15v1h-15zM465 111h1v1h-1zM395 112h2v1h-2zM401 112h5v1h-5zM409 112h2v1h-2zM415 112h2v1h-2zM418 112h2v1h-2zM421 112h3v1h-3zM427 112h2v1h-2zM432 112h1v1h-1zM434 112h3v1h-3zM439 112h12v1h-12zM452 112h7v1h-7zM461 112h3v1h-3zM395 113h1v1h-1zM401 113h1v1h-1zM408 113h1v1h-1zM414 113h2v1h-2zM417 113h2v1h-2zM420 113h1v1h-1zM423 113h1v1h-1zM427 113h1v1h-1zM429 113h1v1h-1zM433 113h5v1h-5zM439 113h1v1h-1zM441 113h1v1h-1zM444 113h4v1h-4zM449 113h11v1h-11zM461 113h1v1h-1zM465 113h1v1h-1zM397 114h1v1h-1zM399 114h1v1h-1zM403 114h1v1h-1zM405 114h2v1h-2zM409 114h3v1h-3zM415 114h2v1h-2zM418 114h1v1h-1zM420 114h1v1h-1zM422 114h1v1h-1zM424 114h1v1h-1zM429 114h2v1h-2zM432 114h1v1h-1zM435 114h2v1h-2zM438 114h1v1h-1zM441 114h2v1h-2zM447 114h1v1h-1zM449 114h9v1h-9zM459 114h1v1h-1zM461 114h1v1h-1zM394 115h4v1h-4zM402 115h2v1h-2zM406 115h5v1h-5zM412 115h1v1h-1zM414 115h4v1h-4zM420 115h2v1h-2zM428 115h1v1h-1zM430 115h2v1h-2zM437 115h2v1h-2zM440 115h1v1h-1zM444 115h1v1h-1zM446 115h1v1h-1zM448 115h11v1h-11zM460 115h2v1h-2zM472 115h1v1h-1zM397 116h1v1h-1zM404 116h2v1h-2zM408 116h5v1h-5zM416 116h1v1h-1zM419 116h3v1h-3zM423 116h5v1h-5zM429 116h2v1h-2zM433 116h1v1h-1zM438 116h2v1h-2zM441 116h1v1h-1zM443 116h2v1h-2zM447 116h12v1h-12zM465 116h1v1h-1zM395 117h3v1h-3zM401 117h1v1h-1zM405 117h1v1h-1zM411 117h2v1h-2zM415 117h5v1h-5zM421 117h1v1h-1zM426 117h1v1h-1zM428 117h1v1h-1zM430 117h1v1h-1zM433 117h1v1h-1zM436 117h1v1h-1zM439 117h1v1h-1zM441 117h2v1h-2zM444 117h14v1h-14zM459 117h2v1h-2zM462 117h1v1h-1zM397 118h5v1h-5zM403 118h1v1h-1zM407 118h1v1h-1zM413 118h1v1h-1zM415 118h1v1h-1zM419 118h3v1h-3zM424 118h1v1h-1zM426 118h2v1h-2zM430 118h1v1h-1zM432 118h2v1h-2zM436 118h3v1h-3zM441 118h1v1h-1zM446 118h10v1h-10zM457 118h5v1h-5zM395 119h3v1h-3zM399 119h2v1h-2zM403 119h2v1h-2zM410 119h2v1h-2zM413 119h5v1h-5zM419 119h2v1h-2zM424 119h10v1h-10zM436 119h3v1h-3zM443 119h1v1h-1zM445 119h18v1h-18zM465 119h1v1h-1zM396 120h3v1h-3zM400 120h4v1h-4zM405 120h2v1h-2zM408 120h1v1h-1zM410 120h3v1h-3zM419 120h2v1h-2zM422 120h8v1h-8zM431 120h9v1h-9zM441 120h2v1h-2zM444 120h19v1h-19zM394 121h1v1h-1zM396 121h4v1h-4zM401 121h1v1h-1zM404 121h2v1h-2zM408 121h3v1h-3zM414 121h2v1h-2zM419 121h2v1h-2zM422 121h1v1h-1zM425 121h2v1h-2zM429 121h1v1h-1zM432 121h4v1h-4zM441 121h22v1h-22zM394 122h1v1h-1zM397 122h2v1h-2zM401 122h1v1h-1zM403 122h1v1h-1zM406 122h5v1h-5zM412 122h1v1h-1zM416 122h1v1h-1zM418 122h1v1h-1zM421 122h2v1h-2zM425 122h3v1h-3zM429 122h2v1h-2zM432 122h1v1h-1zM436 122h2v1h-2zM440 122h1v1h-1zM443 122h19v1h-19zM466 122h2v1h-2zM398 123h1v1h-1zM400 123h7v1h-7zM408 123h2v1h-2zM412 123h1v1h-1zM416 123h2v1h-2zM420 123h1v1h-1zM426 123h12v1h-12zM442 123h2v1h-2zM445 123h1v1h-1zM447 123h12v1h-12zM460 123h2v1h-2zM469 123h1v1h-1zM395 124h1v1h-1zM397 124h4v1h-4zM402 124h2v1h-2zM405 124h1v1h-1zM408 124h3v1h-3zM412 124h8v1h-8zM421 124h5v1h-5zM428 124h3v1h-3zM432 124h1v1h-1zM434 124h1v1h-1zM436 124h2v1h-2zM439 124h1v1h-1zM442 124h2v1h-2zM445 124h3v1h-3zM449 124h12v1h-12zM462 124h1v1h-1zM465 124h1v1h-1zM395 125h2v1h-2zM398 125h2v1h-2zM401 125h4v1h-4zM407 125h9v1h-9zM418 125h1v1h-1zM422 125h1v1h-1zM424 125h5v1h-5zM430 125h2v1h-2zM433 125h5v1h-5zM439 125h1v1h-1zM441 125h1v1h-1zM443 125h3v1h-3zM447 125h14v1h-14zM462 125h1v1h-1zM395 126h1v1h-1zM397 126h6v1h-6zM404 126h6v1h-6zM411 126h6v1h-6zM418 126h4v1h-4zM424 126h4v1h-4zM429 126h6v1h-6zM436 126h2v1h-2zM440 126h5v1h-5zM446 126h12v1h-12zM394 127h1v1h-1zM396 127h3v1h-3zM401 127h12v1h-12zM414 127h1v1h-1zM417 127h6v1h-6zM425 127h6v1h-6zM432 127h1v1h-1zM434 127h2v1h-2zM439 127h4v1h-4zM444 127h1v1h-1zM446 127h12v1h-12zM459 127h3v1h-3zM463 127h1v1h-1zM466 127h1v1h-1zM394 128h15v1h-15zM410 128h4v1h-4zM415 128h2v1h-2zM418 128h1v1h-1zM427 128h1v1h-1zM429 128h3v1h-3zM434 128h1v1h-1zM436 128h2v1h-2zM439 128h2v1h-2zM442 128h11v1h-11zM454 128h8v1h-8zM463 128h1v1h-1zM394 129h1v1h-1zM396 129h5v1h-5zM402 129h9v1h-9zM412 129h1v1h-1zM414 129h2v1h-2zM417 129h3v1h-3zM421 129h10v1h-10zM433 129h5v1h-5zM439 129h1v1h-1zM441 129h1v1h-1zM443 129h18v1h-18zM464 129h1v1h-1zM394 130h12v1h-12zM407 130h10v1h-10zM418 130h3v1h-3zM422 130h1v1h-1zM424 130h2v1h-2zM427 130h3v1h-3zM431 130h4v1h-4zM436 130h1v1h-1zM439 130h5v1h-5zM445 130h1v1h-1zM447 130h13v1h-13zM461 130h1v1h-1zM394 131h1v1h-1zM396 131h4v1h-4zM401 131h25v1h-25zM428 131h2v1h-2zM432 131h8v1h-8zM441 131h2v1h-2zM446 131h16v1h-16zM467 131h1v1h-1zM394 132h26v1h-26zM421 132h1v1h-1zM423 132h1v1h-1zM425 132h1v1h-1zM427 132h3v1h-3zM431 132h2v1h-2zM434 132h1v1h-1zM436 132h3v1h-3zM440 132h17v1h-17zM458 132h1v1h-1zM460 132h1v1h-1zM465 132h1v1h-1zM394 133h25v1h-25zM420 133h1v1h-1zM422 133h1v1h-1zM428 133h1v1h-1zM430 133h4v1h-4zM435 133h2v1h-2zM438 133h4v1h-4zM443 133h2v1h-2zM447 133h13v1h-13zM461 133h1v1h-1zM394 134h1v1h-1zM396 134h7v1h-7zM404 134h8v1h-8zM413 134h3v1h-3zM417 134h5v1h-5zM426 134h3v1h-3zM433 134h1v1h-1zM438 134h1v1h-1zM443 134h2v1h-2zM447 134h14v1h-14zM395 135h29v1h-29zM428 135h1v1h-1zM430 135h1v1h-1zM432 135h1v1h-1zM436 135h4v1h-4zM442 135h1v1h-1zM447 135h10v1h-10zM458 135h2v1h-2zM461 135h1v1h-1zM463 135h1v1h-1zM394 136h2v1h-2zM397 136h18v1h-18zM416 136h2v1h-2zM419 136h1v1h-1zM423 136h1v1h-1zM428 136h2v1h-2zM431 136h2v1h-2zM434 136h1v1h-1zM436 136h2v1h-2zM439 136h2v1h-2zM446 136h12v1h-12zM459 136h1v1h-1zM394 137h15v1h-15zM410 137h5v1h-5zM416 137h1v1h-1zM418 137h3v1h-3zM429 137h1v1h-1zM431 137h1v1h-1zM434 137h2v1h-2zM439 137h3v1h-3zM446 137h2v1h-2zM450 137h2v1h-2zM453 137h1v1h-1zM455 137h6v1h-6zM394 138h20v1h-20zM415 138h2v1h-2zM418 138h2v1h-2zM426 138h2v1h-2zM429 138h1v1h-1zM432 138h2v1h-2zM437 138h1v1h-1zM443 138h1v1h-1zM446 138h6v1h-6zM453 138h5v1h-5zM394 139h3v1h-3zM398 139h2v1h-2zM402 139h6v1h-6zM409 139h4v1h-4zM414 139h1v1h-1zM416 139h3v1h-3zM420 139h3v1h-3zM425 139h1v1h-1zM428 139h1v1h-1zM430 139h1v1h-1zM432 139h1v1h-1zM436 139h1v1h-1zM438 139h1v1h-1zM441 139h1v1h-1zM446 139h2v1h-2zM449 139h4v1h-4zM454 139h1v1h-1zM456 139h3v1h-3zM396 140h4v1h-4zM401 140h12v1h-12zM414 140h1v1h-1zM416 140h3v1h-3zM421 140h1v1h-1zM427 140h1v1h-1zM430 140h2v1h-2zM433 140h2v1h-2zM436 140h1v1h-1zM438 140h1v1h-1zM445 140h1v1h-1zM447 140h1v1h-1zM450 140h4v1h-4zM458 140h1v1h-1zM394 141h2v1h-2zM397 141h1v1h-1zM400 141h6v1h-6zM408 141h6v1h-6zM416 141h1v1h-1zM422 141h1v1h-1zM428 141h1v1h-1zM432 141h2v1h-2zM446 141h1v1h-1zM449 141h2v1h-2zM452 141h6v1h-6zM397 142h1v1h-1zM400 142h4v1h-4zM405 142h5v1h-5zM424 142h1v1h-1zM427 142h1v1h-1zM429 142h1v1h-1zM432 142h1v1h-1zM436 142h1v1h-1zM438 142h3v1h-3zM448 142h1v1h-1zM451 142h2v1h-2zM457 142h1v1h-1zM459 142h1v1h-1z" fill="#000"/>
<line x1="393.50" y1="53.50" x2="513.00" y2="53.50" stroke="#000" stroke-width="1.4" />
<line x1="513.00" y1="53.50" x2="513.00" y2="143.00" stroke="#000" stroke-width="1.4" />
<line x1="393.50" y1="143.00" x2="513.00" y2="143.00" stroke="#000" stroke-width="1.4" />
<line x1="434.00" y1="53.50" x2="434.00" y2="143.00" stroke="#000" stroke-width="1.35" stroke-opacity="0.85"/>
<line x1="393.50" y1="115.30" x2="513.00" y2="115.30" stroke="#000" stroke-width="1.35" stroke-opacity="0.85"/>
<line x1="393.50" y1="143.00" x2="393.50" y2="147.50" stroke="#000" stroke-width="1.25" />
<line x1="402.49" y1="143.00" x2="402.49" y2="145.70" stroke="#000" stroke-width="1.25" />
<line x1="407.75" y1="143.00" x2="407.75" y2="145.70" stroke="#000" stroke-width="1.25" />
<line x1="411.49" y1="143.00" x2="411.49" y2="145.70" stroke="#000" stroke-width="1.25" />
<line x1="414.38" y1="143.00" x2="414.38" y2="145.70" stroke="#000" stroke-width="1.25" />
<line x1="416.75" y1="143.00" x2="416.75" y2="145.70" stroke="#000" stroke-width="1.25" />
<line x1="418.75" y1="143.00" x2="418.75" y2="145.70" stroke="#000" stroke-width="1.25" />
<line x1="420.48" y1="143.00" x2="420.48" y2="145.70" stroke="#000" stroke-width="1.25" />
<line x1="422.01" y1="143.00" x2="422.01" y2="145.70" stroke="#000" stroke-width="1.25" />
<line x1="423.38" y1="143.00" x2="423.38" y2="147.50" stroke="#000" stroke-width="1.25" />
<line x1="432.37" y1="143.00" x2="432.37" y2="145.70" stroke="#000" stroke-width="1.25" />
<line x1="437.63" y1="143.00" x2="437.63" y2="145.70" stroke="#000" stroke-width="1.25" />
<line x1="441.36" y1="143.00" x2="441.36" y2="145.70" stroke="#000" stroke-width="1.25" />
<line x1="444.26" y1="143.00" x2="444.26" y2="145.70" stroke="#000" stroke-width="1.25" />
<line x1="446.62" y1="143.00" x2="446.62" y2="145.70" stroke="#000" stroke-width="1.25" />
<line x1="448.62" y1="143.00" x2="448.62" y2="145.70" stroke="#000" stroke-width="1.25" />
<line x1="450.35" y1="143.00" x2="450.35" y2="145.70" stroke="#000" stroke-width="1.25" />
<line x1="451.88" y1="143.00" x2="451.88" y2="145.70" stroke="#000" stroke-width="1.25" />
<line x1="453.25" y1="143.00" x2="453.25" y2="147.50" stroke="#000" stroke-width="1.25" />
<line x1="462.24" y1="143.00" x2="462.24" y2="145.70" stroke="#000" stroke-width="1.25" />
<line x1="467.50" y1="143.00" x2="467.50" y2="145.70" stroke="#000" stroke-width="1.25" />
<line x1="471.24" y1="143.00" x2="471.24" y2="145.70" stroke="#000" stroke-width="1.25" />
<line x1="474.13" y1="143.00" x2="474.13" y2="145.70" stroke="#000" stroke-width="1.25" />
<line x1="476.50" y1="143.00" x2="476.50" y2="145.70" stroke="#000" stroke-width="1.25" />
<line x1="478.50" y1="143.00" x2="478.50" y2="145.70" stroke="#000" stroke-width="1.25" />
<line x1="480.23" y1="143.00" x2="480.23" y2="145.70" stroke="#000" stroke-width="1.25" />
<line x1="481.76" y1="143.00" x2="481.76" y2="145.70" stroke="#000" stroke-width="1.25" />
<line x1="483.12" y1="143.00" x2="483.12" y2="147.50" stroke="#000" stroke-width="1.25" />
<line x1="492.12" y1="143.00" x2="492.12" y2="145.70" stroke="#000" stroke-width="1.25" />
<line x1="497.38" y1="143.00" x2="497.38" y2="145.70" stroke="#000" stroke-width="1.25" />
<line x1="501.11" y1="143.00" x2="501.11" y2="145.70" stroke="#000" stroke-width="1.25" />
<line x1="504.01" y1="143.00" x2="504.01" y2="145.70" stroke="#000" stroke-width="1.25" />
<line x1="506.37" y1="143.00" x2="506.37" y2="145.70" stroke="#000" stroke-width="1.25" />
<line x1="508.37" y1="143.00" x2="508.37" y2="145.70" stroke="#000" stroke-width="1.25" />
<line x1="510.10" y1="143.00" x2="510.10" y2="145.70" stroke="#000" stroke-width="1.25" />
<line x1="511.63" y1="143.00" x2="511.63" y2="145.70" stroke="#000" stroke-width="1.25" />
<line x1="513.00" y1="143.00" x2="513.00" y2="147.50" stroke="#000" stroke-width="1.25" />
<line x1="390.90" y1="143.00" x2="394.10" y2="143.00" stroke="#000" stroke-width="1.2" />
<line x1="392.30" y1="136.26" x2="394.10" y2="136.26" stroke="#000" stroke-width="1.2" />
<line x1="392.30" y1="132.32" x2="394.10" y2="132.32" stroke="#000" stroke-width="1.2" />
<line x1="392.30" y1="129.53" x2="394.10" y2="129.53" stroke="#000" stroke-width="1.2" />
<line x1="392.30" y1="127.36" x2="394.10" y2="127.36" stroke="#000" stroke-width="1.2" />
<line x1="392.30" y1="125.59" x2="394.10" y2="125.59" stroke="#000" stroke-width="1.2" />
<line x1="392.30" y1="124.09" x2="394.10" y2="124.09" stroke="#000" stroke-width="1.2" />
<line x1="392.30" y1="122.79" x2="394.10" y2="122.79" stroke="#000" stroke-width="1.2" />
<line x1="392.30" y1="121.65" x2="394.10" y2="121.65" stroke="#000" stroke-width="1.2" />
<line x1="390.90" y1="120.62" x2="394.10" y2="120.62" stroke="#000" stroke-width="1.2" />
<line x1="392.30" y1="113.89" x2="394.10" y2="113.89" stroke="#000" stroke-width="1.2" />
<line x1="392.30" y1="109.95" x2="394.10" y2="109.95" stroke="#000" stroke-width="1.2" />
<line x1="392.30" y1="107.15" x2="394.10" y2="107.15" stroke="#000" stroke-width="1.2" />
<line x1="392.30" y1="104.99" x2="394.10" y2="104.99" stroke="#000" stroke-width="1.2" />
<line x1="392.30" y1="103.21" x2="394.10" y2="103.21" stroke="#000" stroke-width="1.2" />
<line x1="392.30" y1="101.72" x2="394.10" y2="101.72" stroke="#000" stroke-width="1.2" />
<line x1="392.30" y1="100.42" x2="394.10" y2="100.42" stroke="#000" stroke-width="1.2" />
<line x1="392.30" y1="99.27" x2="394.10" y2="99.27" stroke="#000" stroke-width="1.2" />
<line x1="390.90" y1="98.25" x2="394.10" y2="98.25" stroke="#000" stroke-width="1.2" />
<line x1="392.30" y1="91.51" x2="394.10" y2="91.51" stroke="#000" stroke-width="1.2" />
<line x1="392.30" y1="87.57" x2="394.10" y2="87.57" stroke="#000" stroke-width="1.2" />
<line x1="392.30" y1="84.78" x2="394.10" y2="84.78" stroke="#000" stroke-width="1.2" />
<line x1="392.30" y1="82.61" x2="394.10" y2="82.61" stroke="#000" stroke-width="1.2" />
<line x1="392.30" y1="80.84" x2="394.10" y2="80.84" stroke="#000" stroke-width="1.2" />
<line x1="392.30" y1="79.34" x2="394.10" y2="79.34" stroke="#000" stroke-width="1.2" />
<line x1="392.30" y1="78.04" x2="394.10" y2="78.04" stroke="#000" stroke-width="1.2" />
<line x1="392.30" y1="76.90" x2="394.10" y2="76.90" stroke="#000" stroke-width="1.2" />
<line x1="390.90" y1="75.88" x2="394.10" y2="75.88" stroke="#000" stroke-width="1.2" />
<line x1="392.30" y1="69.14" x2="394.10" y2="69.14" stroke="#000" stroke-width="1.2" />
<line x1="392.30" y1="65.20" x2="394.10" y2="65.20" stroke="#000" stroke-width="1.2" />
<line x1="392.30" y1="62.40" x2="394.10" y2="62.40" stroke="#000" stroke-width="1.2" />
<line x1="392.30" y1="60.24" x2="394.10" y2="60.24" stroke="#000" stroke-width="1.2" />
<line x1="392.30" y1="58.46" x2="394.10" y2="58.46" stroke="#000" stroke-width="1.2" />
<line x1="392.30" y1="56.97" x2="394.10" y2="56.97" stroke="#000" stroke-width="1.2" />
<line x1="392.30" y1="55.67" x2="394.10" y2="55.67" stroke="#000" stroke-width="1.2" />
<line x1="392.30" y1="54.52" x2="394.10" y2="54.52" stroke="#000" stroke-width="1.2" />
<line x1="390.90" y1="53.50" x2="394.10" y2="53.50" stroke="#000" stroke-width="1.2" />
<line x1="487.60" y1="57.70" x2="487.60" y2="91.00" stroke="#000" stroke-width="1.4" />
<line x1="469.00" y1="74.60" x2="506.50" y2="74.60" stroke="#000" stroke-width="1.4" />
<text x="484.50" y="70.00" font-size="12" class="lb" text-anchor="end" transform="translate(484.50,0) scale(0.86,1) translate(-484.50,0)">13</text>
<text x="491.50" y="70.00" font-size="12" class="lb" text-anchor="start" transform="translate(491.50,0) scale(0.86,1) translate(-491.50,0)">17</text>
<text x="484.50" y="88.30" font-size="12" class="lb" text-anchor="end" transform="translate(484.50,0) scale(0.86,1) translate(-484.50,0)">35</text>
<text x="491.50" y="88.30" font-size="12" class="lb" text-anchor="start" transform="translate(491.50,0) scale(0.86,1) translate(-491.50,0)">35</text>
<text x="0" y="0" font-size="10.5" text-anchor="middle" class="lb" transform="translate(59.60,161.00) scale(0.86,1)">10<tspan dy="-5.8">0</tspan></text>
<text x="0" y="0" font-size="10.5" text-anchor="middle" class="lb" transform="translate(89.10,161.00) scale(0.86,1)">10<tspan dy="-5.8">1</tspan></text>
<text x="0" y="0" font-size="10.5" text-anchor="middle" class="lb" transform="translate(118.60,161.00) scale(0.86,1)">10<tspan dy="-5.8">2</tspan></text>
<text x="0" y="0" font-size="10.5" text-anchor="middle" class="lb" transform="translate(148.10,161.00) scale(0.86,1)">10<tspan dy="-5.8">3</tspan></text>
<text x="0" y="0" font-size="10.5" text-anchor="middle" class="lb" transform="translate(177.60,161.00) scale(0.86,1)">10<tspan dy="-5.8">4</tspan></text>
<text x="0" y="0" font-size="10.5" text-anchor="middle" class="lb" transform="translate(223.40,161.00) scale(0.86,1)">10<tspan dy="-5.8">0</tspan></text>
<text x="0" y="0" font-size="10.5" text-anchor="middle" class="lb" transform="translate(252.88,161.00) scale(0.86,1)">10<tspan dy="-5.8">1</tspan></text>
<text x="0" y="0" font-size="10.5" text-anchor="middle" class="lb" transform="translate(282.35,161.00) scale(0.86,1)">10<tspan dy="-5.8">2</tspan></text>
<text x="0" y="0" font-size="10.5" text-anchor="middle" class="lb" transform="translate(311.82,161.00) scale(0.86,1)">10<tspan dy="-5.8">3</tspan></text>
<text x="0" y="0" font-size="10.5" text-anchor="middle" class="lb" transform="translate(341.30,161.00) scale(0.86,1)">10<tspan dy="-5.8">4</tspan></text>
<text x="0" y="0" font-size="10.5" text-anchor="middle" class="lb" transform="translate(394.10,161.00) scale(0.86,1)">10<tspan dy="-5.8">0</tspan></text>
<text x="0" y="0" font-size="10.5" text-anchor="middle" class="lb" transform="translate(423.98,161.00) scale(0.86,1)">10<tspan dy="-5.8">1</tspan></text>
<text x="0" y="0" font-size="10.5" text-anchor="middle" class="lb" transform="translate(453.85,161.00) scale(0.86,1)">10<tspan dy="-5.8">2</tspan></text>
<text x="0" y="0" font-size="10.5" text-anchor="middle" class="lb" transform="translate(483.73,161.00) scale(0.86,1)">10<tspan dy="-5.8">3</tspan></text>
<text x="0" y="0" font-size="10.5" text-anchor="middle" class="lb" transform="translate(513.60,161.00) scale(0.86,1)">10<tspan dy="-5.8">4</tspan></text>
<text x="0" y="0" font-size="10.5" text-anchor="middle" class="lb" transform="translate(49.90,143.00) rotate(-90) scale(0.95,1)">10<tspan dx="1.0" dy="-6.0">0</tspan></text>
<text x="0" y="0" font-size="10.5" text-anchor="middle" class="lb" transform="translate(49.90,120.62) rotate(-90) scale(0.95,1)">10<tspan dx="1.0" dy="-6.0">1</tspan></text>
<text x="0" y="0" font-size="10.5" text-anchor="middle" class="lb" transform="translate(49.90,98.25) rotate(-90) scale(0.95,1)">10<tspan dx="1.0" dy="-6.0">2</tspan></text>
<text x="0" y="0" font-size="10.5" text-anchor="middle" class="lb" transform="translate(49.90,75.88) rotate(-90) scale(0.95,1)">10<tspan dx="1.0" dy="-6.0">3</tspan></text>
<text x="0" y="0" font-size="10.5" text-anchor="middle" class="lb" transform="translate(49.90,53.50) rotate(-90) scale(0.95,1)">10<tspan dx="1.0" dy="-6.0">4</tspan></text>
<text x="0" y="0" font-size="10.5" text-anchor="middle" class="lb" transform="translate(214.10,143.00) rotate(-90) scale(0.95,1)">10<tspan dx="1.0" dy="-6.0">0</tspan></text>
<text x="0" y="0" font-size="10.5" text-anchor="middle" class="lb" transform="translate(214.10,120.62) rotate(-90) scale(0.95,1)">10<tspan dx="1.0" dy="-6.0">1</tspan></text>
<text x="0" y="0" font-size="10.5" text-anchor="middle" class="lb" transform="translate(214.10,98.25) rotate(-90) scale(0.95,1)">10<tspan dx="1.0" dy="-6.0">2</tspan></text>
<text x="0" y="0" font-size="10.5" text-anchor="middle" class="lb" transform="translate(214.10,75.88) rotate(-90) scale(0.95,1)">10<tspan dx="1.0" dy="-6.0">3</tspan></text>
<text x="0" y="0" font-size="10.5" text-anchor="middle" class="lb" transform="translate(214.10,53.50) rotate(-90) scale(0.95,1)">10<tspan dx="1.0" dy="-6.0">4</tspan></text>
<text x="0" y="0" font-size="10.5" text-anchor="middle" class="lb" transform="translate(386.20,143.00) rotate(-90) scale(0.95,1)">10<tspan dx="1.0" dy="-6.0">0</tspan></text>
<text x="0" y="0" font-size="10.5" text-anchor="middle" class="lb" transform="translate(386.20,120.62) rotate(-90) scale(0.95,1)">10<tspan dx="1.0" dy="-6.0">1</tspan></text>
<text x="0" y="0" font-size="10.5" text-anchor="middle" class="lb" transform="translate(386.20,98.25) rotate(-90) scale(0.95,1)">10<tspan dx="1.0" dy="-6.0">2</tspan></text>
<text x="0" y="0" font-size="10.5" text-anchor="middle" class="lb" transform="translate(386.20,75.88) rotate(-90) scale(0.95,1)">10<tspan dx="1.0" dy="-6.0">3</tspan></text>
<text x="0" y="0" font-size="10.5" text-anchor="middle" class="lb" transform="translate(386.20,53.50) rotate(-90) scale(0.95,1)">10<tspan dx="1.0" dy="-6.0">4</tspan></text>
<text x="0.40" y="135.00" font-size="12.6" font-weight="bold" text-anchor="start">CD7</text>
<line x1="16.70" y1="178.00" x2="16.70" y2="150.80" stroke="#000" stroke-width="2.0" />
<polygon points="11.50,151.80 21.90,151.80 16.70,140.80" fill="#000"/>
<line x1="15.70" y1="177.50" x2="41.00" y2="177.50" stroke="#000" stroke-width="2.0" />
<polygon points="40,173.8 40,183.4 51,178.5" fill="#000"/>
<text x="54.80" y="184.00" font-size="12.5" font-weight="bold" text-anchor="start" letter-spacing="-1">CD4</text>
<line x1="115.60" y1="128.00" x2="115.60" y2="200.70" stroke="#000" stroke-width="2.0" />
<polygon points="110.30,199.70 122.70,199.70 116.50,214.00" fill="#000"/>
<line x1="278.70" y1="140.00" x2="278.70" y2="201.00" stroke="#000" stroke-width="2.0" />
<polygon points="273.80,200.00 285.80,200.00 279.80,214.00" fill="#000"/>
<line x1="452.50" y1="140.00" x2="452.50" y2="201.80" stroke="#000" stroke-width="2.0" />
<polygon points="447.80,200.80 459.80,200.80 453.80,213.50" fill="#000"/>
<line x1="57.00" y1="325.20" x2="176.50" y2="325.20" stroke="#000" stroke-width="0.9" />
<line x1="57.00" y1="242.50" x2="57.00" y2="328.40" stroke="#000" stroke-width="1.7" />
<line x1="56.40" y1="327.80" x2="177.10" y2="327.80" stroke="#000" stroke-width="1.6" />
<line x1="176.50" y1="242.50" x2="176.50" y2="327.80" stroke="#000" stroke-width="1.3" />
<line x1="51.50" y1="243.80" x2="57.00" y2="243.80" stroke="#000" stroke-width="1.2" />
<line x1="53.50" y1="247.97" x2="57.00" y2="247.97" stroke="#000" stroke-width="1.2" />
<line x1="53.50" y1="252.14" x2="57.00" y2="252.14" stroke="#000" stroke-width="1.2" />
<line x1="53.50" y1="256.31" x2="57.00" y2="256.31" stroke="#000" stroke-width="1.2" />
<line x1="53.50" y1="260.48" x2="57.00" y2="260.48" stroke="#000" stroke-width="1.2" />
<line x1="51.50" y1="264.65" x2="57.00" y2="264.65" stroke="#000" stroke-width="1.2" />
<line x1="53.50" y1="268.82" x2="57.00" y2="268.82" stroke="#000" stroke-width="1.2" />
<line x1="53.50" y1="272.99" x2="57.00" y2="272.99" stroke="#000" stroke-width="1.2" />
<line x1="53.50" y1="277.16" x2="57.00" y2="277.16" stroke="#000" stroke-width="1.2" />
<line x1="53.50" y1="281.33" x2="57.00" y2="281.33" stroke="#000" stroke-width="1.2" />
<line x1="51.50" y1="285.50" x2="57.00" y2="285.50" stroke="#000" stroke-width="1.2" />
<line x1="53.50" y1="289.67" x2="57.00" y2="289.67" stroke="#000" stroke-width="1.2" />
<line x1="53.50" y1="293.84" x2="57.00" y2="293.84" stroke="#000" stroke-width="1.2" />
<line x1="53.50" y1="298.01" x2="57.00" y2="298.01" stroke="#000" stroke-width="1.2" />
<line x1="53.50" y1="302.18" x2="57.00" y2="302.18" stroke="#000" stroke-width="1.2" />
<line x1="51.50" y1="306.35" x2="57.00" y2="306.35" stroke="#000" stroke-width="1.2" />
<line x1="53.50" y1="310.52" x2="57.00" y2="310.52" stroke="#000" stroke-width="1.2" />
<line x1="53.50" y1="314.69" x2="57.00" y2="314.69" stroke="#000" stroke-width="1.2" />
<line x1="53.50" y1="318.86" x2="57.00" y2="318.86" stroke="#000" stroke-width="1.2" />
<line x1="53.50" y1="323.03" x2="57.00" y2="323.03" stroke="#000" stroke-width="1.2" />
<line x1="51.50" y1="327.20" x2="57.00" y2="327.20" stroke="#000" stroke-width="1.2" />
<line x1="57.00" y1="327.80" x2="57.00" y2="332.80" stroke="#000" stroke-width="1.25" />
<line x1="65.99" y1="327.80" x2="65.99" y2="331.40" stroke="#000" stroke-width="1.25" />
<line x1="71.25" y1="327.80" x2="71.25" y2="331.40" stroke="#000" stroke-width="1.25" />
<line x1="74.99" y1="327.80" x2="74.99" y2="331.40" stroke="#000" stroke-width="1.25" />
<line x1="77.88" y1="327.80" x2="77.88" y2="331.40" stroke="#000" stroke-width="1.25" />
<line x1="80.25" y1="327.80" x2="80.25" y2="331.40" stroke="#000" stroke-width="1.25" />
<line x1="82.25" y1="327.80" x2="82.25" y2="331.40" stroke="#000" stroke-width="1.25" />
<line x1="83.98" y1="327.80" x2="83.98" y2="331.40" stroke="#000" stroke-width="1.25" />
<line x1="85.51" y1="327.80" x2="85.51" y2="331.40" stroke="#000" stroke-width="1.25" />
<line x1="86.88" y1="327.80" x2="86.88" y2="332.80" stroke="#000" stroke-width="1.25" />
<line x1="95.87" y1="327.80" x2="95.87" y2="331.40" stroke="#000" stroke-width="1.25" />
<line x1="101.13" y1="327.80" x2="101.13" y2="331.40" stroke="#000" stroke-width="1.25" />
<line x1="104.86" y1="327.80" x2="104.86" y2="331.40" stroke="#000" stroke-width="1.25" />
<line x1="107.76" y1="327.80" x2="107.76" y2="331.40" stroke="#000" stroke-width="1.25" />
<line x1="110.12" y1="327.80" x2="110.12" y2="331.40" stroke="#000" stroke-width="1.25" />
<line x1="112.12" y1="327.80" x2="112.12" y2="331.40" stroke="#000" stroke-width="1.25" />
<line x1="113.85" y1="327.80" x2="113.85" y2="331.40" stroke="#000" stroke-width="1.25" />
<line x1="115.38" y1="327.80" x2="115.38" y2="331.40" stroke="#000" stroke-width="1.25" />
<line x1="116.75" y1="327.80" x2="116.75" y2="332.80" stroke="#000" stroke-width="1.25" />
<line x1="125.74" y1="327.80" x2="125.74" y2="331.40" stroke="#000" stroke-width="1.25" />
<line x1="131.00" y1="327.80" x2="131.00" y2="331.40" stroke="#000" stroke-width="1.25" />
<line x1="134.74" y1="327.80" x2="134.74" y2="331.40" stroke="#000" stroke-width="1.25" />
<line x1="137.63" y1="327.80" x2="137.63" y2="331.40" stroke="#000" stroke-width="1.25" />
<line x1="140.00" y1="327.80" x2="140.00" y2="331.40" stroke="#000" stroke-width="1.25" />
<line x1="142.00" y1="327.80" x2="142.00" y2="331.40" stroke="#000" stroke-width="1.25" />
<line x1="143.73" y1="327.80" x2="143.73" y2="331.40" stroke="#000" stroke-width="1.25" />
<line x1="145.26" y1="327.80" x2="145.26" y2="331.40" stroke="#000" stroke-width="1.25" />
<line x1="146.62" y1="327.80" x2="146.62" y2="332.80" stroke="#000" stroke-width="1.25" />
<line x1="155.62" y1="327.80" x2="155.62" y2="331.40" stroke="#000" stroke-width="1.25" />
<line x1="160.88" y1="327.80" x2="160.88" y2="331.40" stroke="#000" stroke-width="1.25" />
<line x1="164.61" y1="327.80" x2="164.61" y2="331.40" stroke="#000" stroke-width="1.25" />
<line x1="167.51" y1="327.80" x2="167.51" y2="331.40" stroke="#000" stroke-width="1.25" />
<line x1="169.87" y1="327.80" x2="169.87" y2="331.40" stroke="#000" stroke-width="1.25" />
<line x1="171.87" y1="327.80" x2="171.87" y2="331.40" stroke="#000" stroke-width="1.25" />
<line x1="173.60" y1="327.80" x2="173.60" y2="331.40" stroke="#000" stroke-width="1.25" />
<line x1="175.13" y1="327.80" x2="175.13" y2="331.40" stroke="#000" stroke-width="1.25" />
<line x1="176.50" y1="327.80" x2="176.50" y2="332.80" stroke="#000" stroke-width="1.25" />
<polyline points="58.5,318.0 60.0,314.0 62.0,310.8 64.9,306.0 67.5,300.0 69.4,297.2 69.6,287.8 69.8,297.2 72.0,302.6 73.5,304.0 74.6,300.0 74.9,294.3 75.4,300.0 75.6,307.3 77.0,308.0 79.0,311.0 82.3,317.8 85.3,323.5 90.0,324.8" fill="none" stroke="#000" stroke-width="1.5" stroke-linejoin="round"/>
<polyline points="83.0,314.5 86.0,316.8 92.6,316.8 93.0,321.5 100.4,321.5 102.5,316.5 106.4,323.6 111.5,323.8 112.4,320.8 116.7,320.8 117.5,324.5" fill="none" stroke="#000" stroke-width="2.8" stroke-linejoin="round"/>
<line x1="58.20" y1="291.00" x2="58.20" y2="327.00" stroke="#000" stroke-width="2.2" />
<polygon points="58,314.4 60,313.6 62,313 63,310.8 66,310.8 67,309.5 69,309.5 69.5,308 72,308 73,307.3 76,307.3 77,306.5 79,307.5 80,308.5 83.2,312 84,315.5 82,317.5 78,317.5 76,318.5 70,318.2 66,317.8 62,318.3 60,318.5 58,319" fill="#000"/>
<polygon points="57.5,316.8 61.5,316.8 62,325.5 57.5,325.5" fill="#000"/>
<line x1="119.20" y1="254.60" x2="133.20" y2="254.60" stroke="#000" stroke-width="3.0" />
<line x1="119.20" y1="269.80" x2="133.20" y2="269.80" stroke="#000" stroke-width="1.2" />
<text x="143.50" y="258.80" font-size="12.5" font-weight="normal" text-anchor="start">20%</text>
<text x="143.50" y="274.30" font-size="12.5" font-weight="normal" text-anchor="start">0.2%</text>
<text x="92.30" y="370.00" font-size="12.8" font-weight="bold" text-anchor="start" letter-spacing="-0.4">CD40-L</text>
<line x1="57.00" y1="352.70" x2="161.00" y2="352.70" stroke="#000" stroke-width="2.0" />
<polygon points="160.00,347.90 160.00,357.50 170.00,352.70" fill="#000"/>
<text x="0" y="0" font-size="10.5" text-anchor="middle" class="lb" transform="translate(57.00,343.80) scale(1.0,1)">10<tspan dy="-5.6">0</tspan></text>
<text x="0" y="0" font-size="10.5" text-anchor="middle" class="lb" transform="translate(86.88,343.80) scale(1.0,1)">10<tspan dy="-5.6">1</tspan></text>
<text x="0" y="0" font-size="10.5" text-anchor="middle" class="lb" transform="translate(116.75,343.80) scale(1.0,1)">10<tspan dy="-5.6">2</tspan></text>
<text x="0" y="0" font-size="10.5" text-anchor="middle" class="lb" transform="translate(146.62,343.80) scale(1.0,1)">10<tspan dy="-5.6">3</tspan></text>
<text x="0" y="0" font-size="10.5" text-anchor="middle" class="lb" transform="translate(176.50,343.80) scale(1.0,1)">10<tspan dy="-5.6">4</tspan></text>
<line x1="222.50" y1="325.00" x2="345.00" y2="325.00" stroke="#000" stroke-width="0.9" />
<line x1="222.50" y1="241.00" x2="222.50" y2="327.90" stroke="#000" stroke-width="1.7" />
<line x1="221.90" y1="327.30" x2="345.60" y2="327.30" stroke="#000" stroke-width="1.6" />
<line x1="345.00" y1="241.00" x2="345.00" y2="327.30" stroke="#000" stroke-width="1.3" />
<line x1="216.50" y1="242.20" x2="222.50" y2="242.20" stroke="#000" stroke-width="1.2" />
<line x1="218.50" y1="244.95" x2="222.50" y2="244.95" stroke="#000" stroke-width="1.2" />
<line x1="218.50" y1="247.70" x2="222.50" y2="247.70" stroke="#000" stroke-width="1.2" />
<line x1="218.50" y1="250.45" x2="222.50" y2="250.45" stroke="#000" stroke-width="1.2" />
<line x1="218.50" y1="253.20" x2="222.50" y2="253.20" stroke="#000" stroke-width="1.2" />
<line x1="216.50" y1="255.95" x2="222.50" y2="255.95" stroke="#000" stroke-width="1.2" />
<line x1="218.50" y1="258.70" x2="222.50" y2="258.70" stroke="#000" stroke-width="1.2" />
<line x1="218.50" y1="261.45" x2="222.50" y2="261.45" stroke="#000" stroke-width="1.2" />
<line x1="218.50" y1="264.20" x2="222.50" y2="264.20" stroke="#000" stroke-width="1.2" />
<line x1="218.50" y1="266.95" x2="222.50" y2="266.95" stroke="#000" stroke-width="1.2" />
<line x1="216.50" y1="269.70" x2="222.50" y2="269.70" stroke="#000" stroke-width="1.2" />
<line x1="218.50" y1="272.45" x2="222.50" y2="272.45" stroke="#000" stroke-width="1.2" />
<line x1="218.50" y1="275.20" x2="222.50" y2="275.20" stroke="#000" stroke-width="1.2" />
<line x1="218.50" y1="277.95" x2="222.50" y2="277.95" stroke="#000" stroke-width="1.2" />
<line x1="218.50" y1="280.70" x2="222.50" y2="280.70" stroke="#000" stroke-width="1.2" />
<line x1="216.50" y1="283.45" x2="222.50" y2="283.45" stroke="#000" stroke-width="1.2" />
<line x1="218.50" y1="286.20" x2="222.50" y2="286.20" stroke="#000" stroke-width="1.2" />
<line x1="218.50" y1="288.95" x2="222.50" y2="288.95" stroke="#000" stroke-width="1.2" />
<line x1="218.50" y1="291.70" x2="222.50" y2="291.70" stroke="#000" stroke-width="1.2" />
<line x1="218.50" y1="294.45" x2="222.50" y2="294.45" stroke="#000" stroke-width="1.2" />
<line x1="216.50" y1="297.20" x2="222.50" y2="297.20" stroke="#000" stroke-width="1.2" />
<line x1="218.50" y1="299.95" x2="222.50" y2="299.95" stroke="#000" stroke-width="1.2" />
<line x1="218.50" y1="302.70" x2="222.50" y2="302.70" stroke="#000" stroke-width="1.2" />
<line x1="218.50" y1="305.45" x2="222.50" y2="305.45" stroke="#000" stroke-width="1.2" />
<line x1="218.50" y1="308.20" x2="222.50" y2="308.20" stroke="#000" stroke-width="1.2" />
<line x1="216.50" y1="310.95" x2="222.50" y2="310.95" stroke="#000" stroke-width="1.2" />
<line x1="218.50" y1="313.70" x2="222.50" y2="313.70" stroke="#000" stroke-width="1.2" />
<line x1="218.50" y1="316.45" x2="222.50" y2="316.45" stroke="#000" stroke-width="1.2" />
<line x1="218.50" y1="319.20" x2="222.50" y2="319.20" stroke="#000" stroke-width="1.2" />
<line x1="218.50" y1="321.95" x2="222.50" y2="321.95" stroke="#000" stroke-width="1.2" />
<line x1="216.50" y1="324.70" x2="222.50" y2="324.70" stroke="#000" stroke-width="1.2" />
<line x1="218.50" y1="327.45" x2="222.50" y2="327.45" stroke="#000" stroke-width="1.2" />
<line x1="222.50" y1="327.30" x2="222.50" y2="332.30" stroke="#000" stroke-width="1.25" />
<line x1="231.72" y1="327.30" x2="231.72" y2="330.90" stroke="#000" stroke-width="1.25" />
<line x1="237.11" y1="327.30" x2="237.11" y2="330.90" stroke="#000" stroke-width="1.25" />
<line x1="240.94" y1="327.30" x2="240.94" y2="330.90" stroke="#000" stroke-width="1.25" />
<line x1="243.91" y1="327.30" x2="243.91" y2="330.90" stroke="#000" stroke-width="1.25" />
<line x1="246.33" y1="327.30" x2="246.33" y2="330.90" stroke="#000" stroke-width="1.25" />
<line x1="248.38" y1="327.30" x2="248.38" y2="330.90" stroke="#000" stroke-width="1.25" />
<line x1="250.16" y1="327.30" x2="250.16" y2="330.90" stroke="#000" stroke-width="1.25" />
<line x1="251.72" y1="327.30" x2="251.72" y2="330.90" stroke="#000" stroke-width="1.25" />
<line x1="253.12" y1="327.30" x2="253.12" y2="332.30" stroke="#000" stroke-width="1.25" />
<line x1="262.34" y1="327.30" x2="262.34" y2="330.90" stroke="#000" stroke-width="1.25" />
<line x1="267.74" y1="327.30" x2="267.74" y2="330.90" stroke="#000" stroke-width="1.25" />
<line x1="271.56" y1="327.30" x2="271.56" y2="330.90" stroke="#000" stroke-width="1.25" />
<line x1="274.53" y1="327.30" x2="274.53" y2="330.90" stroke="#000" stroke-width="1.25" />
<line x1="276.96" y1="327.30" x2="276.96" y2="330.90" stroke="#000" stroke-width="1.25" />
<line x1="279.01" y1="327.30" x2="279.01" y2="330.90" stroke="#000" stroke-width="1.25" />
<line x1="280.78" y1="327.30" x2="280.78" y2="330.90" stroke="#000" stroke-width="1.25" />
<line x1="282.35" y1="327.30" x2="282.35" y2="330.90" stroke="#000" stroke-width="1.25" />
<line x1="283.75" y1="327.30" x2="283.75" y2="332.30" stroke="#000" stroke-width="1.25" />
<line x1="292.97" y1="327.30" x2="292.97" y2="330.90" stroke="#000" stroke-width="1.25" />
<line x1="298.36" y1="327.30" x2="298.36" y2="330.90" stroke="#000" stroke-width="1.25" />
<line x1="302.19" y1="327.30" x2="302.19" y2="330.90" stroke="#000" stroke-width="1.25" />
<line x1="305.16" y1="327.30" x2="305.16" y2="330.90" stroke="#000" stroke-width="1.25" />
<line x1="307.58" y1="327.30" x2="307.58" y2="330.90" stroke="#000" stroke-width="1.25" />
<line x1="309.63" y1="327.30" x2="309.63" y2="330.90" stroke="#000" stroke-width="1.25" />
<line x1="311.41" y1="327.30" x2="311.41" y2="330.90" stroke="#000" stroke-width="1.25" />
<line x1="312.97" y1="327.30" x2="312.97" y2="330.90" stroke="#000" stroke-width="1.25" />
<line x1="314.38" y1="327.30" x2="314.38" y2="332.30" stroke="#000" stroke-width="1.25" />
<line x1="323.59" y1="327.30" x2="323.59" y2="330.90" stroke="#000" stroke-width="1.25" />
<line x1="328.99" y1="327.30" x2="328.99" y2="330.90" stroke="#000" stroke-width="1.25" />
<line x1="332.81" y1="327.30" x2="332.81" y2="330.90" stroke="#000" stroke-width="1.25" />
<line x1="335.78" y1="327.30" x2="335.78" y2="330.90" stroke="#000" stroke-width="1.25" />
<line x1="338.21" y1="327.30" x2="338.21" y2="330.90" stroke="#000" stroke-width="1.25" />
<line x1="340.26" y1="327.30" x2="340.26" y2="330.90" stroke="#000" stroke-width="1.25" />
<line x1="342.03" y1="327.30" x2="342.03" y2="330.90" stroke="#000" stroke-width="1.25" />
<line x1="343.60" y1="327.30" x2="343.60" y2="330.90" stroke="#000" stroke-width="1.25" />
<line x1="345.00" y1="327.30" x2="345.00" y2="332.30" stroke="#000" stroke-width="1.25" />
<polygon points="222.5,327 222.5,286 229,286 229.5,294.6 226.9,304 225.2,312 224,327" fill="#000"/>
<polyline points="222.8,327.0 223.5,320.0 224.5,312.0 225.5,302.0 227.0,294.0 229.5,290.0 231.0,282.0 232.5,276.0 233.5,270.0 236.0,267.5 238.0,268.0 240.0,270.0 242.0,279.0 244.0,285.0 245.0,296.0 247.0,304.0 249.2,312.0 252.0,320.0 255.4,323.8 258.0,325.0" fill="none" stroke="#000" stroke-width="2.5" stroke-linejoin="round"/>
<polygon points="228.8,271 230.5,266 233,267.5 233.8,280 233,293 229.5,294.6 228.8,285" fill="#000"/>
<polygon points="236.3,267 240,266.5 242.5,270 244.2,285 241.5,285 237.2,281" fill="#000"/>
<polyline points="223.0,326.0 223.3,300.0 224.0,290.0 225.5,287.0 226.5,294.0 228.0,289.0 229.5,272.0 230.3,258.6 230.8,272.0 232.0,275.0 234.0,268.0 235.5,262.0 236.3,253.9 237.0,262.0 238.0,264.0 238.5,256.9 239.0,264.0 240.0,268.0 241.5,272.0 243.0,280.0 244.5,290.0 246.0,300.0 248.5,310.0 251.5,319.0 255.0,323.5 258.7,322.0 260.0,325.0 264.2,322.0 266.0,325.5" fill="none" stroke="#000" stroke-width="1.0" stroke-linejoin="round"/>
<line x1="295.00" y1="252.80" x2="309.50" y2="252.80" stroke="#000" stroke-width="3.0" />
<line x1="295.00" y1="269.40" x2="309.50" y2="269.40" stroke="#000" stroke-width="1.2" />
<text x="318.70" y="256.30" font-size="12.5" font-weight="normal" text-anchor="start">0%</text>
<text x="318.70" y="272.90" font-size="12.5" font-weight="normal" text-anchor="start">0%</text>
<text x="260.90" y="370.40" font-size="12.8" font-weight="bold" text-anchor="start" letter-spacing="-0.4">CD40-L</text>
<line x1="226.70" y1="352.20" x2="330.80" y2="352.20" stroke="#000" stroke-width="2.0" />
<polygon points="329.80,347.40 329.80,357.00 339.80,352.20" fill="#000"/>
<text x="0" y="0" font-size="10.5" text-anchor="middle" class="lb" transform="translate(222.50,343.70) scale(1.0,1)">10<tspan dy="-5.6">0</tspan></text>
<text x="0" y="0" font-size="10.5" text-anchor="middle" class="lb" transform="translate(253.12,343.70) scale(1.0,1)">10<tspan dy="-5.6">1</tspan></text>
<text x="0" y="0" font-size="10.5" text-anchor="middle" class="lb" transform="translate(283.75,343.70) scale(1.0,1)">10<tspan dy="-5.6">2</tspan></text>
<text x="0" y="0" font-size="10.5" text-anchor="middle" class="lb" transform="translate(314.38,343.70) scale(1.0,1)">10<tspan dy="-5.6">3</tspan></text>
<text x="0" y="0" font-size="10.5" text-anchor="middle" class="lb" transform="translate(345.00,343.70) scale(1.0,1)">10<tspan dy="-5.6">4</tspan></text>
<line x1="393.00" y1="237.70" x2="393.00" y2="327.90" stroke="#000" stroke-width="1.7" />
<line x1="392.40" y1="327.30" x2="512.30" y2="327.30" stroke="#000" stroke-width="1.6" />
<line x1="511.70" y1="237.70" x2="511.70" y2="327.30" stroke="#000" stroke-width="1.3" />
<line x1="393.00" y1="237.70" x2="511.70" y2="237.70" stroke="#000" stroke-width="1.3" />
<line x1="386.50" y1="238.80" x2="393.00" y2="238.80" stroke="#000" stroke-width="1.2" />
<line x1="388.00" y1="241.62" x2="393.00" y2="241.62" stroke="#000" stroke-width="1.2" />
<line x1="388.00" y1="244.44" x2="393.00" y2="244.44" stroke="#000" stroke-width="1.2" />
<line x1="388.00" y1="247.26" x2="393.00" y2="247.26" stroke="#000" stroke-width="1.2" />
<line x1="388.00" y1="250.08" x2="393.00" y2="250.08" stroke="#000" stroke-width="1.2" />
<line x1="388.00" y1="252.90" x2="393.00" y2="252.90" stroke="#000" stroke-width="1.2" />
<line x1="386.50" y1="255.72" x2="393.00" y2="255.72" stroke="#000" stroke-width="1.2" />
<line x1="388.00" y1="258.54" x2="393.00" y2="258.54" stroke="#000" stroke-width="1.2" />
<line x1="388.00" y1="261.36" x2="393.00" y2="261.36" stroke="#000" stroke-width="1.2" />
<line x1="388.00" y1="264.18" x2="393.00" y2="264.18" stroke="#000" stroke-width="1.2" />
<line x1="388.00" y1="267.00" x2="393.00" y2="267.00" stroke="#000" stroke-width="1.2" />
<line x1="388.00" y1="269.82" x2="393.00" y2="269.82" stroke="#000" stroke-width="1.2" />
<line x1="386.50" y1="272.64" x2="393.00" y2="272.64" stroke="#000" stroke-width="1.2" />
<line x1="388.00" y1="275.46" x2="393.00" y2="275.46" stroke="#000" stroke-width="1.2" />
<line x1="388.00" y1="278.28" x2="393.00" y2="278.28" stroke="#000" stroke-width="1.2" />
<line x1="388.00" y1="281.10" x2="393.00" y2="281.10" stroke="#000" stroke-width="1.2" />
<line x1="388.00" y1="283.92" x2="393.00" y2="283.92" stroke="#000" stroke-width="1.2" />
<line x1="388.00" y1="286.74" x2="393.00" y2="286.74" stroke="#000" stroke-width="1.2" />
<line x1="386.50" y1="289.56" x2="393.00" y2="289.56" stroke="#000" stroke-width="1.2" />
<line x1="388.00" y1="292.38" x2="393.00" y2="292.38" stroke="#000" stroke-width="1.2" />
<line x1="388.00" y1="295.20" x2="393.00" y2="295.20" stroke="#000" stroke-width="1.2" />
<line x1="388.00" y1="298.02" x2="393.00" y2="298.02" stroke="#000" stroke-width="1.2" />
<line x1="388.00" y1="300.84" x2="393.00" y2="300.84" stroke="#000" stroke-width="1.2" />
<line x1="388.00" y1="303.66" x2="393.00" y2="303.66" stroke="#000" stroke-width="1.2" />
<line x1="386.50" y1="306.48" x2="393.00" y2="306.48" stroke="#000" stroke-width="1.2" />
<line x1="388.00" y1="309.30" x2="393.00" y2="309.30" stroke="#000" stroke-width="1.2" />
<line x1="388.00" y1="312.12" x2="393.00" y2="312.12" stroke="#000" stroke-width="1.2" />
<line x1="388.00" y1="314.94" x2="393.00" y2="314.94" stroke="#000" stroke-width="1.2" />
<line x1="388.00" y1="317.76" x2="393.00" y2="317.76" stroke="#000" stroke-width="1.2" />
<line x1="388.00" y1="320.58" x2="393.00" y2="320.58" stroke="#000" stroke-width="1.2" />
<line x1="386.50" y1="323.40" x2="393.00" y2="323.40" stroke="#000" stroke-width="1.2" />
<line x1="388.00" y1="326.22" x2="393.00" y2="326.22" stroke="#000" stroke-width="1.2" />
<line x1="393.00" y1="327.30" x2="393.00" y2="332.30" stroke="#000" stroke-width="1.25" />
<line x1="401.93" y1="327.30" x2="401.93" y2="330.90" stroke="#000" stroke-width="1.25" />
<line x1="407.16" y1="327.30" x2="407.16" y2="330.90" stroke="#000" stroke-width="1.25" />
<line x1="410.87" y1="327.30" x2="410.87" y2="330.90" stroke="#000" stroke-width="1.25" />
<line x1="413.74" y1="327.30" x2="413.74" y2="330.90" stroke="#000" stroke-width="1.25" />
<line x1="416.09" y1="327.30" x2="416.09" y2="330.90" stroke="#000" stroke-width="1.25" />
<line x1="418.08" y1="327.30" x2="418.08" y2="330.90" stroke="#000" stroke-width="1.25" />
<line x1="419.80" y1="327.30" x2="419.80" y2="330.90" stroke="#000" stroke-width="1.25" />
<line x1="421.32" y1="327.30" x2="421.32" y2="330.90" stroke="#000" stroke-width="1.25" />
<line x1="422.68" y1="327.30" x2="422.68" y2="332.30" stroke="#000" stroke-width="1.25" />
<line x1="431.61" y1="327.30" x2="431.61" y2="330.90" stroke="#000" stroke-width="1.25" />
<line x1="436.83" y1="327.30" x2="436.83" y2="330.90" stroke="#000" stroke-width="1.25" />
<line x1="440.54" y1="327.30" x2="440.54" y2="330.90" stroke="#000" stroke-width="1.25" />
<line x1="443.42" y1="327.30" x2="443.42" y2="330.90" stroke="#000" stroke-width="1.25" />
<line x1="445.77" y1="327.30" x2="445.77" y2="330.90" stroke="#000" stroke-width="1.25" />
<line x1="447.75" y1="327.30" x2="447.75" y2="330.90" stroke="#000" stroke-width="1.25" />
<line x1="449.47" y1="327.30" x2="449.47" y2="330.90" stroke="#000" stroke-width="1.25" />
<line x1="450.99" y1="327.30" x2="450.99" y2="330.90" stroke="#000" stroke-width="1.25" />
<line x1="452.35" y1="327.30" x2="452.35" y2="332.30" stroke="#000" stroke-width="1.25" />
<line x1="461.28" y1="327.30" x2="461.28" y2="330.90" stroke="#000" stroke-width="1.25" />
<line x1="466.51" y1="327.30" x2="466.51" y2="330.90" stroke="#000" stroke-width="1.25" />
<line x1="470.22" y1="327.30" x2="470.22" y2="330.90" stroke="#000" stroke-width="1.25" />
<line x1="473.09" y1="327.30" x2="473.09" y2="330.90" stroke="#000" stroke-width="1.25" />
<line x1="475.44" y1="327.30" x2="475.44" y2="330.90" stroke="#000" stroke-width="1.25" />
<line x1="477.43" y1="327.30" x2="477.43" y2="330.90" stroke="#000" stroke-width="1.25" />
<line x1="479.15" y1="327.30" x2="479.15" y2="330.90" stroke="#000" stroke-width="1.25" />
<line x1="480.67" y1="327.30" x2="480.67" y2="330.90" stroke="#000" stroke-width="1.25" />
<line x1="482.02" y1="327.30" x2="482.02" y2="332.30" stroke="#000" stroke-width="1.25" />
<line x1="490.96" y1="327.30" x2="490.96" y2="330.90" stroke="#000" stroke-width="1.25" />
<line x1="496.18" y1="327.30" x2="496.18" y2="330.90" stroke="#000" stroke-width="1.25" />
<line x1="499.89" y1="327.30" x2="499.89" y2="330.90" stroke="#000" stroke-width="1.25" />
<line x1="502.77" y1="327.30" x2="502.77" y2="330.90" stroke="#000" stroke-width="1.25" />
<line x1="505.12" y1="327.30" x2="505.12" y2="330.90" stroke="#000" stroke-width="1.25" />
<line x1="507.10" y1="327.30" x2="507.10" y2="330.90" stroke="#000" stroke-width="1.25" />
<line x1="508.82" y1="327.30" x2="508.82" y2="330.90" stroke="#000" stroke-width="1.25" />
<line x1="510.34" y1="327.30" x2="510.34" y2="330.90" stroke="#000" stroke-width="1.25" />
<line x1="511.70" y1="327.30" x2="511.70" y2="332.30" stroke="#000" stroke-width="1.25" />
<polygon points="393,327 393,272 395.3,273 397,283.8 396.4,290.3 396.4,300 394.8,309 394.2,327" fill="#000"/>
<polyline points="393.8,327.0 394.2,318.0 395.0,309.0 395.6,300.0 396.6,290.0 397.5,285.0 399.5,281.0 400.6,276.0 401.2,268.0 402.0,264.0 403.2,262.6 404.2,263.5 404.6,268.0 405.0,273.5 406.6,280.0 407.8,285.0 409.0,291.0 410.3,297.5 411.5,303.0 413.0,311.0 415.3,318.5 420.7,323.0 425.9,325.0 431.0,326.2" fill="none" stroke="#000" stroke-width="2.5" stroke-linejoin="round"/>
<polygon points="401.3,277.4 401.5,266 402.5,262.5 404,262.7 404.3,266 404.4,276 403.6,280 402,280" fill="#000"/>
<polyline points="393.8,326.0 394.5,295.0 395.0,276.0 396.0,278.0 397.0,287.0 399.0,282.0 401.0,271.0 402.8,263.5 403.6,268.0 404.3,274.0 406.0,280.5 407.3,285.5 408.5,291.5 409.8,298.0 411.0,303.5 412.6,311.5 415.0,319.0 420.5,323.5 425.9,325.3 430.0,326.0" fill="none" stroke="#000" stroke-width="1.0" stroke-linejoin="round"/>
<line x1="463.30" y1="260.40" x2="478.80" y2="260.40" stroke="#000" stroke-width="3.0" />
<line x1="463.30" y1="277.20" x2="478.80" y2="277.20" stroke="#000" stroke-width="1.2" />
<text x="486.70" y="263.00" font-size="12.5" font-weight="normal" text-anchor="start">0%</text>
<text x="486.70" y="280.80" font-size="12.5" font-weight="normal" text-anchor="start">0%</text>
<text x="428.50" y="369.80" font-size="12.8" font-weight="bold" text-anchor="start" letter-spacing="-0.4">CD40-L</text>
<line x1="396.20" y1="351.90" x2="499.70" y2="351.90" stroke="#000" stroke-width="2.0" />
<polygon points="498.70,347.40 498.70,356.40 508.70,351.90" fill="#000"/>
<text x="0" y="0" font-size="10.5" text-anchor="middle" class="lb" transform="translate(393.00,344.80) scale(1.0,1)">10<tspan dy="-5.6">0</tspan></text>
<text x="0" y="0" font-size="10.5" text-anchor="middle" class="lb" transform="translate(422.68,344.80) scale(1.0,1)">10<tspan dy="-5.6">1</tspan></text>
<text x="0" y="0" font-size="10.5" text-anchor="middle" class="lb" transform="translate(452.35,344.80) scale(1.0,1)">10<tspan dy="-5.6">2</tspan></text>
<text x="0" y="0" font-size="10.5" text-anchor="middle" class="lb" transform="translate(482.02,344.80) scale(1.0,1)">10<tspan dy="-5.6">3</tspan></text>
<text x="0" y="0" font-size="10.5" text-anchor="middle" class="lb" transform="translate(511.70,344.80) scale(1.0,1)">10<tspan dy="-5.6">4</tspan></text>
</svg>
</body></html>
